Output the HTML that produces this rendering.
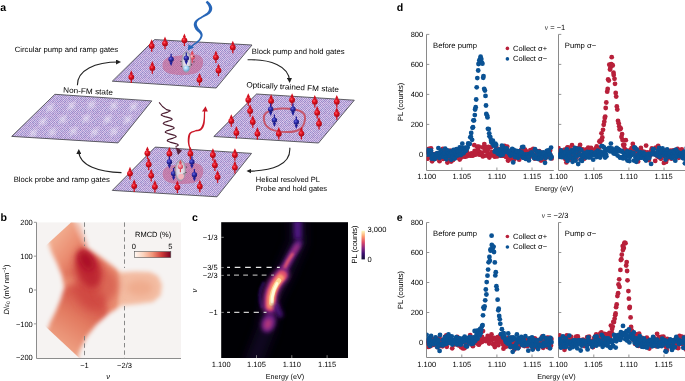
<!DOCTYPE html>
<html><head><meta charset="utf-8"><style>
html,body{margin:0;padding:0;background:#fff;width:685px;height:381px;overflow:hidden}
svg{display:block;will-change:transform}
text{font-family:"Liberation Sans", sans-serif;text-rendering:geometricPrecision}
</style></head><body>
<svg width="685" height="381" viewBox="0 0 685 381" font-family='"Liberation Sans", sans-serif'><rect width="685" height="381" fill="#fff"/><defs>
<pattern id="chk" patternUnits="userSpaceOnUse" width="12" height="12"><rect x="0" y="0" width="1" height="1" fill="#a690cd"/><rect x="1" y="0" width="1" height="1" fill="#dacdef"/><rect x="2" y="0" width="1" height="1" fill="#a892ce"/><rect x="3" y="0" width="1" height="1" fill="#c9bbe4"/><rect x="4" y="0" width="1" height="1" fill="#ae95cf"/><rect x="5" y="0" width="1" height="1" fill="#c4b9e3"/><rect x="6" y="0" width="1" height="1" fill="#a188c8"/><rect x="7" y="0" width="1" height="1" fill="#cfc7eb"/><rect x="8" y="0" width="1" height="1" fill="#b99dd4"/><rect x="9" y="0" width="1" height="1" fill="#d6c6eb"/><rect x="10" y="0" width="1" height="1" fill="#9789c9"/><rect x="11" y="0" width="1" height="1" fill="#cbc3e9"/><rect x="0" y="1" width="1" height="1" fill="#c5bbe4"/><rect x="1" y="1" width="1" height="1" fill="#9b86c7"/><rect x="2" y="1" width="1" height="1" fill="#d4c1e8"/><rect x="3" y="1" width="1" height="1" fill="#a992ce"/><rect x="4" y="1" width="1" height="1" fill="#d3c2e8"/><rect x="5" y="1" width="1" height="1" fill="#a290cd"/><rect x="6" y="1" width="1" height="1" fill="#e3cef0"/><rect x="7" y="1" width="1" height="1" fill="#b29ad2"/><rect x="8" y="1" width="1" height="1" fill="#c8bee6"/><rect x="9" y="1" width="1" height="1" fill="#9b8cca"/><rect x="10" y="1" width="1" height="1" fill="#d5c9ec"/><rect x="11" y="1" width="1" height="1" fill="#ad9ad2"/><rect x="0" y="2" width="1" height="1" fill="#b69cd4"/><rect x="1" y="2" width="1" height="1" fill="#c0b7e1"/><rect x="2" y="2" width="1" height="1" fill="#b09bd3"/><rect x="3" y="2" width="1" height="1" fill="#dbceef"/><rect x="4" y="2" width="1" height="1" fill="#9e87c7"/><rect x="5" y="2" width="1" height="1" fill="#d4c9ed"/><rect x="6" y="2" width="1" height="1" fill="#9a88c8"/><rect x="7" y="2" width="1" height="1" fill="#dfceef"/><rect x="8" y="2" width="1" height="1" fill="#9a88c8"/><rect x="9" y="2" width="1" height="1" fill="#c1b9e3"/><rect x="10" y="2" width="1" height="1" fill="#a999d2"/><rect x="11" y="2" width="1" height="1" fill="#d1c4e9"/><rect x="0" y="3" width="1" height="1" fill="#ccbbe4"/><rect x="1" y="3" width="1" height="1" fill="#a089c8"/><rect x="2" y="3" width="1" height="1" fill="#c6b9e3"/><rect x="3" y="3" width="1" height="1" fill="#9c8bc9"/><rect x="4" y="3" width="1" height="1" fill="#e0ceef"/><rect x="5" y="3" width="1" height="1" fill="#a78dcb"/><rect x="6" y="3" width="1" height="1" fill="#c8bce4"/><rect x="7" y="3" width="1" height="1" fill="#b19ad3"/><rect x="8" y="3" width="1" height="1" fill="#ceb9e3"/><rect x="9" y="3" width="1" height="1" fill="#9c8bc9"/><rect x="10" y="3" width="1" height="1" fill="#d5c9ec"/><rect x="11" y="3" width="1" height="1" fill="#9c8dcb"/><rect x="0" y="4" width="1" height="1" fill="#9e88c8"/><rect x="1" y="4" width="1" height="1" fill="#ccbce5"/><rect x="2" y="4" width="1" height="1" fill="#a38ecc"/><rect x="3" y="4" width="1" height="1" fill="#dbceef"/><rect x="4" y="4" width="1" height="1" fill="#ad93cf"/><rect x="5" y="4" width="1" height="1" fill="#c4bbe4"/><rect x="6" y="4" width="1" height="1" fill="#b59bd3"/><rect x="7" y="4" width="1" height="1" fill="#c6bce5"/><rect x="8" y="4" width="1" height="1" fill="#b297d1"/><rect x="9" y="4" width="1" height="1" fill="#d0bbe4"/><rect x="10" y="4" width="1" height="1" fill="#b19bd3"/><rect x="11" y="4" width="1" height="1" fill="#c9c1e7"/><rect x="0" y="5" width="1" height="1" fill="#ccb7e2"/><rect x="1" y="5" width="1" height="1" fill="#a38bca"/><rect x="2" y="5" width="1" height="1" fill="#cfbde5"/><rect x="3" y="5" width="1" height="1" fill="#a694cf"/><rect x="4" y="5" width="1" height="1" fill="#ccbbe4"/><rect x="5" y="5" width="1" height="1" fill="#9887c7"/><rect x="6" y="5" width="1" height="1" fill="#d7c4e9"/><rect x="7" y="5" width="1" height="1" fill="#a694cf"/><rect x="8" y="5" width="1" height="1" fill="#d6cdef"/><rect x="9" y="5" width="1" height="1" fill="#9886c7"/><rect x="10" y="5" width="1" height="1" fill="#c9c1e8"/><rect x="11" y="5" width="1" height="1" fill="#9d8ac9"/><rect x="0" y="6" width="1" height="1" fill="#a393cf"/><rect x="1" y="6" width="1" height="1" fill="#d3bfe7"/><rect x="2" y="6" width="1" height="1" fill="#b49dd4"/><rect x="3" y="6" width="1" height="1" fill="#d6c7eb"/><rect x="4" y="6" width="1" height="1" fill="#9789c8"/><rect x="5" y="6" width="1" height="1" fill="#cbb7e2"/><rect x="6" y="6" width="1" height="1" fill="#b296d0"/><rect x="7" y="6" width="1" height="1" fill="#c7b7e2"/><rect x="8" y="6" width="1" height="1" fill="#a991cd"/><rect x="9" y="6" width="1" height="1" fill="#d3bee6"/><rect x="10" y="6" width="1" height="1" fill="#9d87c7"/><rect x="11" y="6" width="1" height="1" fill="#dcc8ec"/><rect x="0" y="7" width="1" height="1" fill="#d9c8ec"/><rect x="1" y="7" width="1" height="1" fill="#b399d2"/><rect x="2" y="7" width="1" height="1" fill="#d0bfe6"/><rect x="3" y="7" width="1" height="1" fill="#b59bd3"/><rect x="4" y="7" width="1" height="1" fill="#d3c1e7"/><rect x="5" y="7" width="1" height="1" fill="#b09ad3"/><rect x="6" y="7" width="1" height="1" fill="#d2c5ea"/><rect x="7" y="7" width="1" height="1" fill="#aa93cf"/><rect x="8" y="7" width="1" height="1" fill="#c8b8e2"/><rect x="9" y="7" width="1" height="1" fill="#b89dd5"/><rect x="10" y="7" width="1" height="1" fill="#d4c8ec"/><rect x="11" y="7" width="1" height="1" fill="#ad97d1"/><rect x="0" y="8" width="1" height="1" fill="#aa90cd"/><rect x="1" y="8" width="1" height="1" fill="#cab9e3"/><rect x="2" y="8" width="1" height="1" fill="#9d86c7"/><rect x="3" y="8" width="1" height="1" fill="#ccc2e8"/><rect x="4" y="8" width="1" height="1" fill="#ab96d0"/><rect x="5" y="8" width="1" height="1" fill="#d9c5ea"/><rect x="6" y="8" width="1" height="1" fill="#9a8cca"/><rect x="7" y="8" width="1" height="1" fill="#cebee6"/><rect x="8" y="8" width="1" height="1" fill="#9b8ac9"/><rect x="9" y="8" width="1" height="1" fill="#dcccee"/><rect x="10" y="8" width="1" height="1" fill="#ab90cd"/><rect x="11" y="8" width="1" height="1" fill="#cfbee6"/><rect x="0" y="9" width="1" height="1" fill="#c8bbe4"/><rect x="1" y="9" width="1" height="1" fill="#b499d2"/><rect x="2" y="9" width="1" height="1" fill="#d8ccee"/><rect x="3" y="9" width="1" height="1" fill="#a693cf"/><rect x="4" y="9" width="1" height="1" fill="#c8bae3"/><rect x="5" y="9" width="1" height="1" fill="#b39ad2"/><rect x="6" y="9" width="1" height="1" fill="#dcc8ec"/><rect x="7" y="9" width="1" height="1" fill="#9d8cca"/><rect x="8" y="9" width="1" height="1" fill="#ccc1e8"/><rect x="9" y="9" width="1" height="1" fill="#9e8bc9"/><rect x="10" y="9" width="1" height="1" fill="#d3c6ea"/><rect x="11" y="9" width="1" height="1" fill="#a78dcb"/><rect x="0" y="10" width="1" height="1" fill="#b19dd4"/><rect x="1" y="10" width="1" height="1" fill="#c0b8e2"/><rect x="2" y="10" width="1" height="1" fill="#a99ad3"/><rect x="3" y="10" width="1" height="1" fill="#d6c8ec"/><rect x="4" y="10" width="1" height="1" fill="#a68dcb"/><rect x="5" y="10" width="1" height="1" fill="#c0b7e2"/><rect x="6" y="10" width="1" height="1" fill="#9f90cd"/><rect x="7" y="10" width="1" height="1" fill="#d5caed"/><rect x="8" y="10" width="1" height="1" fill="#9889c8"/><rect x="9" y="10" width="1" height="1" fill="#d3c6ea"/><rect x="10" y="10" width="1" height="1" fill="#ac95cf"/><rect x="11" y="10" width="1" height="1" fill="#decaed"/><rect x="0" y="11" width="1" height="1" fill="#d1c7eb"/><rect x="1" y="11" width="1" height="1" fill="#a191cd"/><rect x="2" y="11" width="1" height="1" fill="#c4b7e1"/><rect x="3" y="11" width="1" height="1" fill="#a797d1"/><rect x="4" y="11" width="1" height="1" fill="#c9bde5"/><rect x="5" y="11" width="1" height="1" fill="#ac96d0"/><rect x="6" y="11" width="1" height="1" fill="#d7c5ea"/><rect x="7" y="11" width="1" height="1" fill="#a88fcc"/><rect x="8" y="11" width="1" height="1" fill="#d4ccee"/><rect x="9" y="11" width="1" height="1" fill="#b49cd4"/><rect x="10" y="11" width="1" height="1" fill="#c7bae3"/><rect x="11" y="11" width="1" height="1" fill="#af95cf"/></pattern>
<radialGradient id="rs" cx="0.38" cy="0.35" r="0.7"><stop offset="0" stop-color="#ff5a66"/><stop offset="0.4" stop-color="#e0101e"/><stop offset="1" stop-color="#a00814"/></radialGradient>
<radialGradient id="bs" cx="0.38" cy="0.35" r="0.7"><stop offset="0" stop-color="#6a6ae0"/><stop offset="0.45" stop-color="#2a2aa8"/><stop offset="1" stop-color="#14146a"/></radialGradient>
<radialGradient id="ps" cx="0.38" cy="0.35" r="0.7"><stop offset="0" stop-color="#ffc0c8"/><stop offset="0.5" stop-color="#f07080"/><stop offset="1" stop-color="#c83048"/></radialGradient>
<radialGradient id="lbs" cx="0.4" cy="0.35" r="0.7"><stop offset="0" stop-color="#e0f4ff"/><stop offset="0.6" stop-color="#90c8ec"/><stop offset="1" stop-color="#5a90c0"/></radialGradient>
<radialGradient id="gel" cx="0.5" cy="0.5" r="0.5"><stop offset="0" stop-color="#f4f4f8" stop-opacity="0.95"/><stop offset="0.7" stop-color="#d8d8e0" stop-opacity="0.9"/><stop offset="1" stop-color="#9a9aa8" stop-opacity="0.9"/></radialGradient>
<linearGradient id="rmcd" x1="0" x2="1" y1="0" y2="0"><stop offset="0" stop-color="#fff8f4"/><stop offset="0.25" stop-color="#fbd2bc"/><stop offset="0.5" stop-color="#f19478"/><stop offset="0.75" stop-color="#cf3a38"/><stop offset="1" stop-color="#7a0020"/></linearGradient>
<linearGradient id="magma" x1="0" x2="0" y1="1" y2="0"><stop offset="0" stop-color="#140e36"/><stop offset="0.2" stop-color="#3b0f70"/><stop offset="0.4" stop-color="#8c2981"/><stop offset="0.6" stop-color="#de4968"/><stop offset="0.8" stop-color="#fe9f6d"/><stop offset="1" stop-color="#fcfdbf"/></linearGradient>
<filter id="b06" filterUnits="userSpaceOnUse" x="-10" y="-10" width="705" height="401"><feGaussianBlur stdDeviation="0.6"/></filter>
<filter id="b1" filterUnits="userSpaceOnUse" x="-10" y="-10" width="705" height="401"><feGaussianBlur stdDeviation="1"/></filter>
<filter id="b15" filterUnits="userSpaceOnUse" x="-10" y="-10" width="705" height="401"><feGaussianBlur stdDeviation="1.6"/></filter>
<filter id="b2" filterUnits="userSpaceOnUse" x="-10" y="-10" width="705" height="401"><feGaussianBlur stdDeviation="2"/></filter>
<filter id="b3" filterUnits="userSpaceOnUse" x="-10" y="-10" width="705" height="401"><feGaussianBlur stdDeviation="3"/></filter>
<filter id="b5" filterUnits="userSpaceOnUse" x="-10" y="-10" width="705" height="401"><feGaussianBlur stdDeviation="5"/></filter>
<filter id="b8" filterUnits="userSpaceOnUse" x="-10" y="-10" width="705" height="401"><feGaussianBlur stdDeviation="8"/></filter>
<marker id="ah" viewBox="0 0 10 10" refX="6" refY="5" markerWidth="5" markerHeight="5" orient="auto-start-reverse" markerUnits="userSpaceOnUse"><path d="M0,0L10,5L0,10z" fill="#222"/></marker>
</defs><text transform="translate(14.8,52.3)" font-size="7.7" fill="#000">Circular pump and ramp gates</text><text transform="translate(251.8,53.9)" font-size="7.7" fill="#000">Block pump and hold gates</text><text transform="translate(63.0,92.6) rotate(2.6) scale(1.07,1)" font-size="7.7" fill="#000">Non-FM state</text><text transform="translate(246.2,87.3) rotate(2.9) scale(1.065,1)" font-size="7.7" fill="#000">Optically trained FM state</text><text transform="translate(255.8,182.0)" font-size="7.5" fill="#000">Helical resolved PL</text><text transform="translate(255.8,191.2)" font-size="7.5" fill="#000">Probe and hold gates</text><text transform="translate(13.7,182.0)" font-size="7.7" fill="#000">Block probe and ramp gates</text><path d="M77.4,85.3C77,70 95,62 119,62" stroke="#222" stroke-width="1.1" fill="none" marker-end="url(#ah)"/><path d="M247.6,59.8C270,59 289,66 289.6,81" stroke="#222" stroke-width="1.1" fill="none" marker-end="url(#ah)"/><path d="M289.8,147.7C291,165 272,171 248.5,171.1" stroke="#222" stroke-width="1.1" fill="none" marker-end="url(#ah)"/><path d="M121.5,172.6C100,172 79,166 78.8,151" stroke="#222" stroke-width="1.1" fill="none" marker-end="url(#ah)"/><polygon points="54.9,94.3 151.8,100.9 118,142.9 11.7,136.4" fill="url(#chk)"/><g filter="url(#b1)"><ellipse cx="50.2" cy="107.9" rx="2.2" ry="6.5" transform="rotate(40 50.2 107.9)" fill="#fff" opacity="0.3"/><ellipse cx="50.2" cy="107.9" rx="2.0" ry="5" transform="rotate(-50 50.2 107.9)" fill="#fff" opacity="0.22"/><ellipse cx="71.4" cy="105.8" rx="2.2" ry="6.5" transform="rotate(40 71.4 105.8)" fill="#fff" opacity="0.3"/><ellipse cx="71.4" cy="105.8" rx="2.0" ry="5" transform="rotate(-50 71.4 105.8)" fill="#fff" opacity="0.22"/><ellipse cx="91.5" cy="104.7" rx="2.2" ry="6.5" transform="rotate(40 91.5 104.7)" fill="#fff" opacity="0.3"/><ellipse cx="91.5" cy="104.7" rx="2.0" ry="5" transform="rotate(-50 91.5 104.7)" fill="#fff" opacity="0.22"/><ellipse cx="113.7" cy="105.8" rx="2.2" ry="6.5" transform="rotate(40 113.7 105.8)" fill="#fff" opacity="0.3"/><ellipse cx="113.7" cy="105.8" rx="2.0" ry="5" transform="rotate(-50 113.7 105.8)" fill="#fff" opacity="0.22"/><ellipse cx="133.5" cy="106.8" rx="2.2" ry="6.5" transform="rotate(40 133.5 106.8)" fill="#fff" opacity="0.3"/><ellipse cx="133.5" cy="106.8" rx="2.0" ry="5" transform="rotate(-50 133.5 106.8)" fill="#fff" opacity="0.22"/><ellipse cx="42.8" cy="121.6" rx="2.2" ry="6.5" transform="rotate(40 42.8 121.6)" fill="#fff" opacity="0.3"/><ellipse cx="42.8" cy="121.6" rx="2.0" ry="5" transform="rotate(-50 42.8 121.6)" fill="#fff" opacity="0.22"/><ellipse cx="62.9" cy="119.5" rx="2.2" ry="6.5" transform="rotate(40 62.9 119.5)" fill="#fff" opacity="0.3"/><ellipse cx="62.9" cy="119.5" rx="2.0" ry="5" transform="rotate(-50 62.9 119.5)" fill="#fff" opacity="0.22"/><ellipse cx="86.2" cy="118.5" rx="2.2" ry="6.5" transform="rotate(40 86.2 118.5)" fill="#fff" opacity="0.3"/><ellipse cx="86.2" cy="118.5" rx="2.0" ry="5" transform="rotate(-50 86.2 118.5)" fill="#fff" opacity="0.22"/><ellipse cx="107.5" cy="119.5" rx="2.2" ry="6.5" transform="rotate(40 107.5 119.5)" fill="#fff" opacity="0.3"/><ellipse cx="107.5" cy="119.5" rx="2.0" ry="5" transform="rotate(-50 107.5 119.5)" fill="#fff" opacity="0.22"/><ellipse cx="127.5" cy="119.5" rx="2.2" ry="6.5" transform="rotate(40 127.5 119.5)" fill="#fff" opacity="0.3"/><ellipse cx="127.5" cy="119.5" rx="2.0" ry="5" transform="rotate(-50 127.5 119.5)" fill="#fff" opacity="0.22"/><ellipse cx="33.3" cy="133.3" rx="2.2" ry="6.5" transform="rotate(40 33.3 133.3)" fill="#fff" opacity="0.3"/><ellipse cx="33.3" cy="133.3" rx="2.0" ry="5" transform="rotate(-50 33.3 133.3)" fill="#fff" opacity="0.22"/><ellipse cx="52.3" cy="132.2" rx="2.2" ry="6.5" transform="rotate(40 52.3 132.2)" fill="#fff" opacity="0.3"/><ellipse cx="52.3" cy="132.2" rx="2.0" ry="5" transform="rotate(-50 52.3 132.2)" fill="#fff" opacity="0.22"/><ellipse cx="73.5" cy="131.2" rx="2.2" ry="6.5" transform="rotate(40 73.5 131.2)" fill="#fff" opacity="0.3"/><ellipse cx="73.5" cy="131.2" rx="2.0" ry="5" transform="rotate(-50 73.5 131.2)" fill="#fff" opacity="0.22"/><ellipse cx="94.7" cy="132.2" rx="2.2" ry="6.5" transform="rotate(40 94.7 132.2)" fill="#fff" opacity="0.3"/><ellipse cx="94.7" cy="132.2" rx="2.0" ry="5" transform="rotate(-50 94.7 132.2)" fill="#fff" opacity="0.22"/><ellipse cx="113.8" cy="131.5" rx="2.2" ry="6.5" transform="rotate(40 113.8 131.5)" fill="#fff" opacity="0.3"/><ellipse cx="113.8" cy="131.5" rx="2.0" ry="5" transform="rotate(-50 113.8 131.5)" fill="#fff" opacity="0.22"/></g><polygon points="54.9,94.3 151.8,100.9 118,142.9 11.7,136.4" fill="none" stroke="#46464c" stroke-width="0.85" stroke-linejoin="round"/><polygon points="154.5,39.6 252,45 216.2,88 112.3,81.2" fill="url(#chk)"/><path d="M162.5,66C162,59 168,56 176,56C182,55.5 186,53.8 192,54C199,54.3 203.5,57 203.2,62C203,68 200,72 193,74C186,75.6 178,75.5 171,74C165,72.5 162.7,70 162.5,66z" fill="#c8628e" opacity="0.6"/><polygon points="154.5,39.6 252,45 216.2,88 112.3,81.2" fill="none" stroke="#46464c" stroke-width="0.85" stroke-linejoin="round"/><path d="M151.7,51.8V42.0" stroke="#d0101e" stroke-width="1.3"/><path d="M151.7,39.2l1.7,3.9h-3.4z" fill="#d0101e"/><circle cx="151.7" cy="46.0" r="2.9" fill="url(#rs)"/><path d="M165.0,49.2V39.4" stroke="#d0101e" stroke-width="1.3"/><path d="M165.0,36.6l1.7,3.9h-3.4z" fill="#d0101e"/><circle cx="165.0" cy="43.4" r="2.9" fill="url(#rs)"/><path d="M184.4,46.1V36.3" stroke="#d0101e" stroke-width="1.3"/><path d="M184.4,33.5l1.7,3.9h-3.4z" fill="#d0101e"/><circle cx="184.4" cy="40.3" r="2.9" fill="url(#rs)"/><path d="M232.8,53.3V43.5" stroke="#d0101e" stroke-width="1.3"/><path d="M232.8,40.7l1.7,3.9h-3.4z" fill="#d0101e"/><circle cx="232.8" cy="47.5" r="2.9" fill="url(#rs)"/><path d="M152.3,73.7V63.9" stroke="#d0101e" stroke-width="1.3"/><path d="M152.3,61.1l1.7,3.9h-3.4z" fill="#d0101e"/><circle cx="152.3" cy="67.9" r="2.9" fill="url(#rs)"/><path d="M131.3,82.9V73.1" stroke="#d0101e" stroke-width="1.3"/><path d="M131.3,70.3l1.7,3.9h-3.4z" fill="#d0101e"/><circle cx="131.3" cy="77.1" r="2.9" fill="url(#rs)"/><path d="M215.9,63.1V53.3" stroke="#d0101e" stroke-width="1.3"/><path d="M215.9,50.5l1.7,3.9h-3.4z" fill="#d0101e"/><circle cx="215.9" cy="57.3" r="2.9" fill="url(#rs)"/><path d="M218.5,76.2V66.4" stroke="#d0101e" stroke-width="1.3"/><path d="M218.5,63.6l1.7,3.9h-3.4z" fill="#d0101e"/><circle cx="218.5" cy="70.4" r="2.9" fill="url(#rs)"/><path d="M199.5,85.6V75.8" stroke="#d0101e" stroke-width="1.3"/><path d="M199.5,73.0l1.7,3.9h-3.4z" fill="#d0101e"/><circle cx="199.5" cy="79.8" r="2.9" fill="url(#rs)"/><path d="M171.1,53.7V63.3" stroke="#20209a" stroke-width="1.3"/><path d="M171.1,66.1l1.7,-3.9h-3.4z" fill="#20209a"/><circle cx="171.1" cy="59.3" r="2.7" fill="url(#bs)"/><path d="M192.2,62.8V53.0" stroke="#e04858" stroke-width="1.3"/><path d="M192.2,50.2l1.7,3.9h-3.4z" fill="#e04858"/><circle cx="192.2" cy="57.0" r="2.6" fill="url(#ps)"/><ellipse cx="186.3" cy="62" rx="4.6" ry="10.6" fill="url(#gel)" stroke="#9a9aa4" stroke-width="0.6"/><g fill="#333"><circle cx="181" cy="61.5" r="0.6"/><circle cx="181.3" cy="66.5" r="0.6"/><circle cx="193.8" cy="56.5" r="0.6"/><circle cx="194" cy="61.8" r="0.6"/><circle cx="191.5" cy="64.8" r="0.6"/><circle cx="189" cy="66.6" r="0.6"/></g><circle cx="186.3" cy="68.6" r="3" fill="url(#lbs)"/><path d="M186.3,52.6V62.2" stroke="#20209a" stroke-width="1.3"/><path d="M186.3,65.0l1.7,-3.9h-3.4z" fill="#20209a"/><circle cx="186.3" cy="58.2" r="2.7" fill="url(#bs)"/><polygon points="205.69,2.25 206.02,2.67 206.47,3.23 206.98,3.88 207.48,4.56 207.91,5.20 208.21,5.76 208.44,6.31 208.67,6.89 208.85,7.44 208.96,7.94 209.02,8.40 209.01,8.82 208.95,9.29 208.83,9.81 208.64,10.36 208.38,10.92 208.03,11.50 207.60,12.06 207.03,12.63 206.29,13.23 205.42,13.85 204.46,14.48 203.48,15.11 202.53,15.73 201.60,16.32 200.61,16.88 199.59,17.45 198.59,18.02 197.65,18.63 196.82,19.27 196.10,19.93 195.45,20.61 194.87,21.33 194.39,22.11 194.02,22.96 193.80,23.89 193.77,24.88 193.91,25.85 194.18,26.79 194.54,27.69 194.96,28.54 195.46,29.38 196.12,30.22 196.89,30.97 197.67,31.64 198.40,32.23 198.99,32.76 199.43,33.24 199.78,33.72 200.08,34.17 200.30,34.57 200.45,34.95 200.53,35.34 200.52,35.81 200.40,36.39 200.17,37.06 199.83,37.77 199.40,38.51 198.91,39.24 198.37,39.93 197.73,40.60 196.94,41.29 196.06,41.99 195.15,42.67 194.29,43.31 193.53,43.91 192.88,44.46 192.28,44.98 191.73,45.45 191.25,45.86 190.85,46.21 190.55,46.46 191.45,47.54 191.76,47.28 192.16,46.95 192.65,46.55 193.21,46.10 193.82,45.60 194.47,45.09 195.20,44.54 196.07,43.92 197.01,43.26 197.95,42.56 198.85,41.82 199.63,41.07 200.29,40.30 200.89,39.49 201.42,38.66 201.87,37.83 202.23,37.00 202.48,36.19 202.61,35.39 202.60,34.61 202.47,33.86 202.24,33.16 201.95,32.48 201.57,31.76 201.03,30.98 200.38,30.21 199.69,29.49 199.05,28.81 198.52,28.19 198.14,27.62 197.80,27.01 197.46,26.35 197.19,25.71 196.98,25.11 196.85,24.58 196.80,24.11 196.81,23.64 196.89,23.11 197.05,22.55 197.32,21.95 197.70,21.33 198.18,20.73 198.80,20.15 199.59,19.57 200.50,18.99 201.48,18.41 202.49,17.84 203.47,17.27 204.43,16.73 205.45,16.22 206.51,15.71 207.54,15.18 208.53,14.59 209.40,13.94 210.13,13.23 210.76,12.49 211.28,11.71 211.70,10.89 212.00,10.05 212.19,9.18 212.23,8.26 212.12,7.35 211.89,6.50 211.58,5.71 211.22,4.97 210.79,4.24 210.24,3.50 209.58,2.78 208.88,2.12 208.22,1.55 207.68,1.08 207.31,0.75" fill="#2766b8"/><path d="M187.6,50.6L188.6,44.2L194,47.6z" fill="#2766b8"/><polygon points="256.5,94 354.3,100.2 318.5,143 213.8,136.5" fill="url(#chk)"/><path d="M264,120C262,112 272,108 284,108.5C297,109 306,111 305,119C304,128 300,132 287,132C274,132 265,129 264,120z" fill="none" stroke="#c84858" stroke-width="2" opacity="0.85"/><polygon points="256.5,94 354.3,100.2 318.5,143 213.8,136.5" fill="none" stroke="#46464c" stroke-width="0.85" stroke-linejoin="round"/><path d="M248.3,105.8V96.0" stroke="#d0101e" stroke-width="1.3"/><path d="M248.3,93.2l1.7,3.9h-3.4z" fill="#d0101e"/><circle cx="248.3" cy="100.0" r="2.9" fill="url(#rs)"/><path d="M250.1,116.8V107.0" stroke="#d0101e" stroke-width="1.3"/><path d="M250.1,104.2l1.7,3.9h-3.4z" fill="#d0101e"/><circle cx="250.1" cy="111.0" r="2.9" fill="url(#rs)"/><path d="M252.8,127.8V118.0" stroke="#d0101e" stroke-width="1.3"/><path d="M252.8,115.2l1.7,3.9h-3.4z" fill="#d0101e"/><circle cx="252.8" cy="122.0" r="2.9" fill="url(#rs)"/><path d="M257.4,139.6V129.8" stroke="#d0101e" stroke-width="1.3"/><path d="M257.4,127.0l1.7,3.9h-3.4z" fill="#d0101e"/><circle cx="257.4" cy="133.8" r="2.9" fill="url(#rs)"/><path d="M231.3,126.8V117.0" stroke="#d0101e" stroke-width="1.3"/><path d="M231.3,114.2l1.7,3.9h-3.4z" fill="#d0101e"/><circle cx="231.3" cy="121.0" r="2.9" fill="url(#rs)"/><path d="M236.4,138.7V128.9" stroke="#d0101e" stroke-width="1.3"/><path d="M236.4,126.1l1.7,3.9h-3.4z" fill="#d0101e"/><circle cx="236.4" cy="132.9" r="2.9" fill="url(#rs)"/><path d="M271.1,106.8V97.0" stroke="#d0101e" stroke-width="1.3"/><path d="M271.1,94.2l1.7,3.9h-3.4z" fill="#d0101e"/><circle cx="271.1" cy="101.0" r="2.9" fill="url(#rs)"/><path d="M292.1,105.8V96.0" stroke="#d0101e" stroke-width="1.3"/><path d="M292.1,93.2l1.7,3.9h-3.4z" fill="#d0101e"/><circle cx="292.1" cy="100.0" r="2.9" fill="url(#rs)"/><path d="M314.8,107.5V97.7" stroke="#d0101e" stroke-width="1.3"/><path d="M314.8,94.9l1.7,3.9h-3.4z" fill="#d0101e"/><circle cx="314.8" cy="101.7" r="2.9" fill="url(#rs)"/><path d="M317.2,118.5V108.7" stroke="#d0101e" stroke-width="1.3"/><path d="M317.2,105.9l1.7,3.9h-3.4z" fill="#d0101e"/><circle cx="317.2" cy="112.7" r="2.9" fill="url(#rs)"/><path d="M319.0,129.5V119.7" stroke="#d0101e" stroke-width="1.3"/><path d="M319.0,116.9l1.7,3.9h-3.4z" fill="#d0101e"/><circle cx="319.0" cy="123.7" r="2.9" fill="url(#rs)"/><path d="M278.8,139.6V129.8" stroke="#d0101e" stroke-width="1.3"/><path d="M278.8,127.0l1.7,3.9h-3.4z" fill="#d0101e"/><circle cx="278.8" cy="133.8" r="2.9" fill="url(#rs)"/><path d="M301.4,139.4V129.6" stroke="#d0101e" stroke-width="1.3"/><path d="M301.4,126.8l1.7,3.9h-3.4z" fill="#d0101e"/><circle cx="301.4" cy="133.6" r="2.9" fill="url(#rs)"/><path d="M336.8,107.5V97.7" stroke="#d0101e" stroke-width="1.3"/><path d="M336.8,94.9l1.7,3.9h-3.4z" fill="#d0101e"/><circle cx="336.8" cy="101.7" r="2.9" fill="url(#rs)"/><path d="M336.8,119.8V110.0" stroke="#d0101e" stroke-width="1.3"/><path d="M336.8,107.2l1.7,3.9h-3.4z" fill="#d0101e"/><circle cx="336.8" cy="114.0" r="2.9" fill="url(#rs)"/><path d="M270.7,103.6V113.2" stroke="#20209a" stroke-width="1.3"/><path d="M270.7,116.0l1.7,-3.9h-3.4z" fill="#20209a"/><circle cx="270.7" cy="109.2" r="2.7" fill="url(#bs)"/><path d="M274.4,114.5V124.1" stroke="#20209a" stroke-width="1.3"/><path d="M274.4,126.9l1.7,-3.9h-3.4z" fill="#20209a"/><circle cx="274.4" cy="120.1" r="2.7" fill="url(#bs)"/><path d="M293.0,103.6V113.2" stroke="#20209a" stroke-width="1.3"/><path d="M293.0,116.0l1.7,-3.9h-3.4z" fill="#20209a"/><circle cx="293.0" cy="109.2" r="2.7" fill="url(#bs)"/><path d="M296.3,116.4V126.0" stroke="#20209a" stroke-width="1.3"/><path d="M296.3,128.8l1.7,-3.9h-3.4z" fill="#20209a"/><circle cx="296.3" cy="122.0" r="2.7" fill="url(#bs)"/><polygon points="155.2,147.1 251.5,153.4 217,196.8 112.3,190.4" fill="url(#chk)"/><path d="M162.7,174C162.5,168 168,165 175,165C180,164.5 184,162.8 192,162.8C199,163 203.6,166 203.4,171C203.2,177 200,181.5 192,183.3C184,184.5 175,184.3 169,182.5C164.5,181 162.8,178 162.7,174z" fill="#c8628e" opacity="0.6"/><polygon points="155.2,147.1 251.5,153.4 217,196.8 112.3,190.4" fill="none" stroke="#46464c" stroke-width="0.85" stroke-linejoin="round"/><path d="M147.4,159.0V149.2" stroke="#d0101e" stroke-width="1.3"/><path d="M147.4,146.4l1.7,3.9h-3.4z" fill="#d0101e"/><circle cx="147.4" cy="153.2" r="2.9" fill="url(#rs)"/><path d="M148.7,170.2V160.4" stroke="#d0101e" stroke-width="1.3"/><path d="M148.7,157.6l1.7,3.9h-3.4z" fill="#d0101e"/><circle cx="148.7" cy="164.4" r="2.9" fill="url(#rs)"/><path d="M151.2,181.4V171.6" stroke="#d0101e" stroke-width="1.3"/><path d="M151.2,168.8l1.7,3.9h-3.4z" fill="#d0101e"/><circle cx="151.2" cy="175.6" r="2.9" fill="url(#rs)"/><path d="M154.9,192.6V182.8" stroke="#d0101e" stroke-width="1.3"/><path d="M154.9,180.0l1.7,3.9h-3.4z" fill="#d0101e"/><circle cx="154.9" cy="186.8" r="2.9" fill="url(#rs)"/><path d="M130.0,179.4V169.6" stroke="#d0101e" stroke-width="1.3"/><path d="M130.0,166.8l1.7,3.9h-3.4z" fill="#d0101e"/><circle cx="130.0" cy="173.6" r="2.9" fill="url(#rs)"/><path d="M134.2,191.9V182.1" stroke="#d0101e" stroke-width="1.3"/><path d="M134.2,179.3l1.7,3.9h-3.4z" fill="#d0101e"/><circle cx="134.2" cy="186.1" r="2.9" fill="url(#rs)"/><path d="M169.4,159.5V149.7" stroke="#d0101e" stroke-width="1.3"/><path d="M169.4,146.9l1.7,3.9h-3.4z" fill="#d0101e"/><circle cx="169.4" cy="153.7" r="2.9" fill="url(#rs)"/><path d="M177.4,193.1V183.3" stroke="#d0101e" stroke-width="1.3"/><path d="M177.4,180.5l1.7,3.9h-3.4z" fill="#d0101e"/><circle cx="177.4" cy="187.3" r="2.9" fill="url(#rs)"/><path d="M190.4,159.5V149.7" stroke="#d0101e" stroke-width="1.3"/><path d="M190.4,146.9l1.7,3.9h-3.4z" fill="#d0101e"/><circle cx="190.4" cy="153.7" r="2.9" fill="url(#rs)"/><path d="M199.8,192.3V182.5" stroke="#d0101e" stroke-width="1.3"/><path d="M199.8,179.7l1.7,3.9h-3.4z" fill="#d0101e"/><circle cx="199.8" cy="186.5" r="2.9" fill="url(#rs)"/><path d="M212.9,160.8V151.0" stroke="#d0101e" stroke-width="1.3"/><path d="M212.9,148.2l1.7,3.9h-3.4z" fill="#d0101e"/><circle cx="212.9" cy="155.0" r="2.9" fill="url(#rs)"/><path d="M214.9,171.0V161.2" stroke="#d0101e" stroke-width="1.3"/><path d="M214.9,158.4l1.7,3.9h-3.4z" fill="#d0101e"/><circle cx="214.9" cy="165.2" r="2.9" fill="url(#rs)"/><path d="M217.6,182.8V173.0" stroke="#d0101e" stroke-width="1.3"/><path d="M217.6,170.2l1.7,3.9h-3.4z" fill="#d0101e"/><circle cx="217.6" cy="177.0" r="2.9" fill="url(#rs)"/><path d="M234.9,160.8V151.0" stroke="#d0101e" stroke-width="1.3"/><path d="M234.9,148.2l1.7,3.9h-3.4z" fill="#d0101e"/><circle cx="234.9" cy="155.0" r="2.9" fill="url(#rs)"/><path d="M234.9,173.4V163.6" stroke="#d0101e" stroke-width="1.3"/><path d="M234.9,160.8l1.7,3.9h-3.4z" fill="#d0101e"/><circle cx="234.9" cy="167.6" r="2.9" fill="url(#rs)"/><path d="M169.4,156.3V165.9" stroke="#20209a" stroke-width="1.3"/><path d="M169.4,168.7l1.7,-3.9h-3.4z" fill="#20209a"/><circle cx="169.4" cy="161.9" r="2.7" fill="url(#bs)"/><path d="M173.6,168.0V177.6" stroke="#20209a" stroke-width="1.3"/><path d="M173.6,180.4l1.7,-3.9h-3.4z" fill="#20209a"/><circle cx="173.6" cy="173.6" r="2.7" fill="url(#bs)"/><path d="M191.9,156.4V166.0" stroke="#20209a" stroke-width="1.3"/><path d="M191.9,168.8l1.7,-3.9h-3.4z" fill="#20209a"/><circle cx="191.9" cy="162.0" r="2.7" fill="url(#bs)"/><path d="M194.4,169.1V178.7" stroke="#20209a" stroke-width="1.3"/><path d="M194.4,181.5l1.7,-3.9h-3.4z" fill="#20209a"/><circle cx="194.4" cy="174.7" r="2.7" fill="url(#bs)"/><ellipse cx="180.4" cy="170.4" rx="5.2" ry="10.4" fill="url(#gel)" stroke="#9a9aa4" stroke-width="0.6"/><g fill="#333"><circle cx="174.5" cy="167.5" r="0.6"/><circle cx="174.2" cy="173" r="0.6"/><circle cx="186.5" cy="167" r="0.6"/><circle cx="186" cy="172.5" r="0.6"/><circle cx="182" cy="174.6" r="0.6"/><circle cx="184" cy="173.8" r="0.6"/></g><circle cx="181" cy="176.6" r="2.8" fill="#f6b4bc"/><path d="M180.4,172.3V162.5" stroke="#e04858" stroke-width="1.3"/><path d="M180.4,159.7l1.7,3.9h-3.4z" fill="#e04858"/><circle cx="180.4" cy="166.5" r="2.6" fill="url(#ps)"/><path d="M159.10,102.40 L162.50,106.50 L166.50,109.60 L170.20,110.60 L169.99,111.10 L169.16,111.60 L167.84,112.10 L166.21,112.60 L164.52,113.10 L162.99,113.60 L161.85,114.10 L161.25,114.60 L161.30,115.10 L162.01,115.60 L163.29,116.10 L164.99,116.60 L166.90,117.10 L168.79,117.60 L170.42,118.10 L171.60,118.60 L172.17,119.10 L172.09,119.60 L171.38,120.10 L170.14,120.60 L168.56,121.10 L166.86,121.60 L165.28,122.10 L164.04,122.60 L163.33,123.10 L163.25,123.60 L163.83,124.10 L165.00,124.60 L166.63,125.10 L168.52,125.60 L170.43,126.10 L172.13,126.60 L173.41,127.10 L174.12,127.60 L174.17,128.10 L173.57,128.60 L172.43,129.10 L170.90,129.60 L169.21,130.10 L167.58,130.60 L166.26,131.10 L165.43,131.60 L165.22,132.10 L165.67,132.60 L166.73,133.10 L168.28,133.60 L170.14,134.10 L172.07,134.60 L173.83,135.10 L175.21,135.60 L176.04,136.10 L176.22,136.60 L175.75,137.10 L174.70,137.60 L173.24,138.10 L171.56,138.60 L169.90,139.10 L168.50,139.60 L167.56,140.10 L167.22,140.60 L167.53,141.10 L168.48,141.60 L169.95,142.10 L171.76,142.60 L173.70,143.10 L175.51,143.60 L176.98,144.10 L177.93,144.60 L178.24,145.10 L177.90,145.60 L176.96,146.10 L175.56,146.60" stroke="#4a1c30" stroke-width="1.1" fill="none" stroke-linejoin="round"/><path d="M175.5,147L182,150.5L178,155z" fill="#5a2038"/><polygon points="191.52,150.82 191.27,150.04 190.91,148.98 190.50,147.73 190.09,146.39 189.75,145.08 189.54,143.88 189.45,142.74 189.44,141.54 189.48,140.33 189.58,139.17 189.70,138.09 189.84,137.14 189.97,136.32 190.11,135.60 190.27,135.00 190.46,134.48 190.71,134.01 191.05,133.58 191.50,133.19 192.07,132.83 192.76,132.50 193.53,132.19 194.36,131.90 195.19,131.62 196.04,131.41 196.98,131.27 198.00,131.16 199.04,130.99 200.06,130.72 201.01,130.24 201.80,129.59 202.46,128.84 203.01,128.01 203.47,127.14 203.86,126.23 204.20,125.31 204.47,124.32 204.66,123.28 204.79,122.21 204.87,121.14 204.93,120.09 205.00,119.06 205.05,118.00 205.08,116.91 205.08,115.82 205.08,114.79 205.08,113.84 205.10,113.03 205.13,112.34 205.16,111.72 205.20,111.19 205.24,110.73 205.27,110.35 205.30,110.06 204.30,109.94 204.26,110.23 204.20,110.60 204.12,111.06 204.04,111.61 203.97,112.25 203.90,112.97 203.86,113.81 203.83,114.77 203.80,115.80 203.77,116.87 203.70,117.93 203.60,118.94 203.47,119.94 203.31,120.97 203.14,121.97 202.93,122.94 202.69,123.85 202.40,124.69 202.08,125.51 201.73,126.31 201.35,127.05 200.94,127.72 200.48,128.29 199.99,128.76 199.39,129.12 198.62,129.41 197.72,129.66 196.73,129.87 195.74,130.10 194.81,130.38 193.95,130.66 193.10,130.92 192.25,131.19 191.43,131.51 190.64,131.90 189.95,132.42 189.38,133.02 188.93,133.67 188.58,134.38 188.32,135.14 188.12,135.96 187.96,136.86 187.84,137.89 187.76,139.05 187.74,140.29 187.78,141.57 187.88,142.86 188.06,144.12 188.37,145.42 188.80,146.79 189.29,148.15 189.78,149.39 190.20,150.43 190.48,151.18" fill="#cc1828"/><path d="M205.6,106.2L202,111.4L207.8,111.6z" fill="#c81626"/><rect x="36.8" y="222.4" width="144.2" height="135.6" fill="#f6f3f2"/><mask id="ym" maskUnits="userSpaceOnUse" x="20" y="200" width="180" height="180"><polygon points="30,229 60,212 73,212 74.5,222 79,233 84,244.5 88,248 100,256.5 112,265.5 121,272.5 135,271.5 150,272 158,276 162,285 160.5,295.5 153,302 138,304 122,305.5 109,313.5 96,325 86.5,337 80,350 76,365 40,365 45,330 47.6,330 50,322.8 55.9,311 60.7,299.2 64.2,287.3 61.9,275.5 57.1,263.7 51.2,251.8 47.6,240" fill="#fff" filter="url(#b2)"/><polygon points="72,222 80,222 88,246 84,247" fill="#fff" opacity="0.5" filter="url(#b2)"/></mask><clipPath id="bclip"><polygon points="71,222.4 181,222.4 181,358 79.3,358 37.4,319 37.4,253.3"/></clipPath><linearGradient id="ua" gradientUnits="userSpaceOnUse" x1="50" y1="235" x2="85" y2="262"><stop offset="0" stop-color="#f4b496"/><stop offset="0.6" stop-color="#ea8c70"/><stop offset="1" stop-color="#da6652"/></linearGradient><linearGradient id="la" gradientUnits="userSpaceOnUse" x1="95" y1="292" x2="60" y2="345"><stop offset="0" stop-color="#d04640"/><stop offset="0.5" stop-color="#e27a60"/><stop offset="1" stop-color="#eea082"/></linearGradient><g clip-path="url(#bclip)"><g mask="url(#ym)"><rect x="20" y="200" width="180" height="180" fill="#e98c70"/><polygon points="20,200 90,200 90,250 78,275 55,280 20,270" fill="url(#ua)" filter="url(#b3)"/><polygon points="100,285 110,320 85,370 30,370 40,300 70,285" fill="url(#la)" filter="url(#b3)"/><polygon points="118,266 170,266 170,312 118,312" fill="#f3bca2" filter="url(#b2)"/><ellipse cx="140" cy="288" rx="13" ry="8" fill="#efac8e" filter="url(#b3)"/><ellipse cx="92" cy="284" rx="17" ry="26" fill="#d04a42" filter="url(#b5)" transform="rotate(-8 92 284)"/><ellipse cx="108" cy="285" rx="10" ry="13" fill="#da6654" filter="url(#b5)"/><ellipse cx="88" cy="268" rx="11" ry="20" fill="#bd2832" filter="url(#b3)" transform="rotate(-20 88 268)"/><ellipse cx="86.5" cy="261" rx="6" ry="10" fill="#ab1026" filter="url(#b3)" transform="rotate(-30 86.5 261)"/></g></g><path d="M84.5,222.4V246" stroke="#7c7c7c" stroke-width="0.9" stroke-dasharray="4.4 3"/><path d="M84.5,336V358" stroke="#7c7c7c" stroke-width="0.9" stroke-dasharray="4.4 3"/><path d="M124.5,222.4V268" stroke="#7c7c7c" stroke-width="0.9" stroke-dasharray="4.4 3"/><path d="M124.5,306V358" stroke="#7c7c7c" stroke-width="0.9" stroke-dasharray="4.4 3"/><path d="M36.5,222.4V358.5H181.0" stroke="#8c8c8c" stroke-width="1" fill="none"/><path d="M36.5,222.30h-2.6" stroke="#8c8c8c" stroke-width="0.9"/><text x="32.8" y="225.00" font-size="7.5" text-anchor="end" fill="#000">200</text><path d="M36.5,256.15h-2.6" stroke="#8c8c8c" stroke-width="0.9"/><text x="32.8" y="258.85" font-size="7.5" text-anchor="end" fill="#000">100</text><path d="M36.5,290.00h-2.6" stroke="#8c8c8c" stroke-width="0.9"/><text x="32.8" y="292.70" font-size="7.5" text-anchor="end" fill="#000">0</text><path d="M36.5,323.85h-2.6" stroke="#8c8c8c" stroke-width="0.9"/><text x="32.8" y="326.55" font-size="7.5" text-anchor="end" fill="#000">−100</text><text x="32.8" y="360.40" font-size="7.5" text-anchor="end" fill="#000">−200</text><text x="84.5" y="367.9" font-size="7.5" text-anchor="middle" fill="#000">−1</text><text x="124.5" y="367.9" font-size="7.5" text-anchor="middle" fill="#000">−2/3</text><text x="108.1" y="378.5" font-size="7.5" text-anchor="middle" fill="#000" font-style="italic" font-family="Liberation Serif">ν</text><text transform="translate(8.7,289.5) rotate(-90)" font-size="7.5" text-anchor="middle" fill="#000"><tspan font-style="italic">D</tspan>/<tspan font-style="italic" font-family="Liberation Serif">ε</tspan><tspan font-size="5" dy="1.5">0</tspan><tspan dy="-1.5"> (mV nm</tspan><tspan font-size="5" dy="-2.5">−1</tspan><tspan dy="2.5">)</tspan></text><rect x="134.4" y="251.6" width="36.4" height="6" fill="url(#rmcd)" stroke="#555" stroke-width="0.6"/><text x="133.9" y="248.8" font-size="7.5" text-anchor="middle" fill="#000">0</text><text x="170.4" y="248.8" font-size="7.5" text-anchor="middle" fill="#000">5</text><text x="135" y="237.1" font-size="7.5" fill="#000">RMCD (%)</text><clipPath id="cclip"><rect x="221.2" y="222.2" width="126.80000000000001" height="135.8"/></clipPath><rect x="221.2" y="222.2" width="126.80000000000001" height="135.8" fill="#000004"/><g clip-path="url(#cclip)"><path d="M297.5,215L298,242L285,272L271,300L266,330L252,365" stroke="#1a0838" stroke-width="18" fill="none" filter="url(#b5)" opacity="0.55"/><path d="M297.5,212L297.8,239" stroke="#4e1680" stroke-width="8" fill="none" filter="url(#b2)"/><path d="M298.5,243L291,256L283.5,270" stroke="#5a1a84" stroke-width="7.5" fill="none" filter="url(#b2)" stroke-linecap="round"/><path d="M297.5,246L291,256L284,269" stroke="#a83080" stroke-width="4.2" fill="none" filter="url(#b2)" stroke-linecap="round"/><path d="M292.5,254L288,261L284.5,268" stroke="#e45a70" stroke-width="2.6" fill="none" filter="url(#b1)" stroke-linecap="round"/><path d="M264,282C259,290 259,300 262,308" stroke="#2e0c60" stroke-width="3" fill="none" filter="url(#b1)" opacity="0.8"/><path d="M282,275C276,281 271.5,289 270.3,297C269.8,301 269.6,304 270,307" stroke="#862880" stroke-width="15" fill="none" filter="url(#b2)" stroke-linecap="round"/><path d="M282,275.5C276,281.5 272,289.5 270.8,297C270.4,301 270.3,303 270.5,306" stroke="#e0506c" stroke-width="10" fill="none" filter="url(#b1)" stroke-linecap="round"/><path d="M280.5,278C275.5,283.5 272.5,290 271.3,297C270.9,300 270.8,302 270.9,305" stroke="#fb9a70" stroke-width="7" fill="none" filter="url(#b1)" stroke-linecap="round"/><path d="M279,280.5C275,285.5 272.8,291 271.8,297C271.5,299.5 271.4,301.5 271.5,303.5" stroke="#fed898" stroke-width="4.6" fill="none" filter="url(#b06)" stroke-linecap="round"/><path d="M277,283.5C274.5,287.5 273,292 272.2,297C272,299 271.9,300.5 272,302" stroke="#fffbd8" stroke-width="2.8" fill="none" filter="url(#b06)" stroke-linecap="round"/><path d="M275,304L281,317" stroke="#4a1278" stroke-width="6" fill="none" filter="url(#b2)"/><ellipse cx="268.5" cy="323" rx="7" ry="10" fill="#6a1e84" filter="url(#b2)" transform="rotate(20 268.5 323)"/><ellipse cx="268" cy="324" rx="3.5" ry="5.5" fill="#b83a7c" filter="url(#b2)" transform="rotate(20 268 324)"/></g><path d="M227.1,267.4H230M234.7,267.4H240.4M245.1,267.4H250.8M255.9,267.4H261.3M266.5,267.4H271.7M276.9,267.4H279.8" stroke="#e6e6e6" stroke-width="1.1"/><path d="M227.1,275.1H230M234,275.1H239M243.2,275.1H248M252.7,275.1H257.5M261.7,275.1H266.5M271.2,275.1H274" stroke="#a8a8a8" stroke-width="1.1"/><path d="M227.1,312.4H230M234.2,312.4H239.4M243.7,312.4H248.9M253.7,312.4H258.9M263.6,312.4H266.5" stroke="#cccccc" stroke-width="1.1"/><path d="M256.50,358.0v-2.8" stroke="#9a9a9a" stroke-width="0.8"/><path d="M291.80,358.0v-2.8" stroke="#9a9a9a" stroke-width="0.8"/><path d="M327.10,358.0v-2.8" stroke="#9a9a9a" stroke-width="0.8"/><path d="M221.2,237.3h2.6" stroke="#9a9a9a" stroke-width="0.8"/><path d="M221.2,267.6h2.6" stroke="#9a9a9a" stroke-width="0.8"/><path d="M221.2,275.4h2.6" stroke="#9a9a9a" stroke-width="0.8"/><path d="M221.2,312.4h2.6" stroke="#9a9a9a" stroke-width="0.8"/><text x="221.20" y="367.0" font-size="7.5" text-anchor="middle" fill="#000">1.100</text><text x="256.50" y="367.0" font-size="7.5" text-anchor="middle" fill="#000">1.105</text><text x="291.80" y="367.0" font-size="7.5" text-anchor="middle" fill="#000">1.110</text><text x="327.10" y="367.0" font-size="7.5" text-anchor="middle" fill="#000">1.115</text><text x="285" y="378.7" font-size="7.2" text-anchor="middle" fill="#000">Energy (eV)</text><text x="217.6" y="240.00" font-size="7.5" text-anchor="end" fill="#000">−1/3</text><text x="217.6" y="270.30" font-size="7.5" text-anchor="end" fill="#000">−3/5</text><text x="217.6" y="278.10" font-size="7.5" text-anchor="end" fill="#000">−2/3</text><text x="217.6" y="315.10" font-size="7.5" text-anchor="end" fill="#000">−1</text><text transform="translate(197,290.5) rotate(-90)" font-size="7.5" text-anchor="middle" fill="#000" font-style="italic" font-family="Liberation Serif">ν</text><rect x="361.5" y="230.7" width="3.4" height="28.7" fill="url(#magma)"/><text x="367.6" y="232.0" font-size="7.5" fill="#000">3,000</text><text x="367.6" y="261.9" font-size="7.5" fill="#000">0</text><text transform="translate(357.4,244.5) rotate(-90)" font-size="7.5" text-anchor="middle" fill="#000">PL (counts)</text><text x="0.20" y="10.90" font-size="10.6" text-anchor="start" font-weight="bold" fill="#000" >a</text><text x="0.50" y="220.90" font-size="10.6" text-anchor="start" font-weight="bold" fill="#000" >b</text><text x="192.00" y="220.90" font-size="10.6" text-anchor="start" font-weight="bold" fill="#000" >c</text><text x="396.80" y="11.10" font-size="10.6" text-anchor="start" font-weight="bold" fill="#000" >d</text><text x="396.80" y="220.90" font-size="10.6" text-anchor="start" font-weight="bold" fill="#000" >e</text><path d="M426.5,34.40V170.5H553.8" stroke="#8a8a8a" stroke-width="1" fill="none"/><path d="M426.5,154.40h2.8" stroke="#8a8a8a" stroke-width="0.9"/><path d="M426.5,124.40h2.8" stroke="#8a8a8a" stroke-width="0.9"/><path d="M426.5,94.40h2.8" stroke="#8a8a8a" stroke-width="0.9"/><path d="M426.5,64.40h2.8" stroke="#8a8a8a" stroke-width="0.9"/><path d="M426.5,34.40h2.8" stroke="#8a8a8a" stroke-width="0.9"/><path d="M461.80,170.5v-3" stroke="#8a8a8a" stroke-width="0.9"/><path d="M496.90,170.5v-3" stroke="#8a8a8a" stroke-width="0.9"/><path d="M532.00,170.5v-3" stroke="#8a8a8a" stroke-width="0.9"/><path d="M558.5,34.40V170.5H685" stroke="#8a8a8a" stroke-width="1" fill="none"/><path d="M558.5,154.40h2.8" stroke="#8a8a8a" stroke-width="0.9"/><path d="M558.5,124.40h2.8" stroke="#8a8a8a" stroke-width="0.9"/><path d="M558.5,94.40h2.8" stroke="#8a8a8a" stroke-width="0.9"/><path d="M558.5,64.40h2.8" stroke="#8a8a8a" stroke-width="0.9"/><path d="M558.5,34.40h2.8" stroke="#8a8a8a" stroke-width="0.9"/><path d="M593.80,170.5v-3" stroke="#8a8a8a" stroke-width="0.9"/><path d="M628.90,170.5v-3" stroke="#8a8a8a" stroke-width="0.9"/><path d="M664.00,170.5v-3" stroke="#8a8a8a" stroke-width="0.9"/><text x="423.20" y="157.10" font-size="7.5" text-anchor="end" font-weight="normal" fill="#000" >0</text><text x="423.20" y="127.10" font-size="7.5" text-anchor="end" font-weight="normal" fill="#000" >200</text><text x="423.20" y="97.10" font-size="7.5" text-anchor="end" font-weight="normal" fill="#000" >400</text><text x="423.20" y="67.10" font-size="7.5" text-anchor="end" font-weight="normal" fill="#000" >600</text><text x="423.20" y="37.10" font-size="7.5" text-anchor="end" font-weight="normal" fill="#000" >800</text><text x="426.70" y="179.20" font-size="7.5" text-anchor="middle" font-weight="normal" fill="#000" >1.100</text><text x="461.80" y="179.20" font-size="7.5" text-anchor="middle" font-weight="normal" fill="#000" >1.105</text><text x="496.90" y="179.20" font-size="7.5" text-anchor="middle" font-weight="normal" fill="#000" >1.110</text><text x="532.00" y="179.20" font-size="7.5" text-anchor="middle" font-weight="normal" fill="#000" >1.115</text><text x="558.30" y="179.20" font-size="7.5" text-anchor="middle" font-weight="normal" fill="#000" >1.100</text><text x="593.40" y="179.20" font-size="7.5" text-anchor="middle" font-weight="normal" fill="#000" >1.105</text><text x="628.50" y="179.20" font-size="7.5" text-anchor="middle" font-weight="normal" fill="#000" >1.110</text><text x="663.60" y="179.20" font-size="7.5" text-anchor="middle" font-weight="normal" fill="#000" >1.115</text><text x="554.30" y="191.10" font-size="7.2" text-anchor="middle" font-weight="normal" fill="#000" >Energy (eV)</text><text transform="translate(402.8,101.90) rotate(-90)" font-size="7.5" text-anchor="middle" fill="#000">PL (counts)</text><text x="555.00" y="30.00" font-size="7.5" text-anchor="middle" font-weight="normal" fill="#000" ><tspan font-style="italic" font-family="Liberation Serif">ν</tspan> = −1</text><text x="433.00" y="48.30" font-size="7.7" text-anchor="start" font-weight="normal" fill="#000" >Before pump</text><text x="564.80" y="48.30" font-size="7.7" text-anchor="start" font-weight="normal" fill="#000" >Pump σ−</text><circle cx="507.4" cy="48.40" r="1.8" fill="#b8203a"/><circle cx="507.4" cy="58.90" r="1.8" fill="#0a5294"/><text x="513.00" y="50.60" font-size="7.5" text-anchor="start" font-weight="normal" fill="#000" >Collect σ+</text><text x="513.00" y="61.10" font-size="7.5" text-anchor="start" font-weight="normal" fill="#000" >Collect σ−</text><clipPath id="lc1"><rect x="426.7" y="0" width="127.1" height="381"/></clipPath><clipPath id="lc1r"><rect x="558.3" y="0" width="130" height="381"/></clipPath><g fill="#b8203a" clip-path="url(#lc1)"><circle cx="426.5" cy="151.5" r="2.4"/><circle cx="427.2" cy="158.6" r="2.4"/><circle cx="427.8" cy="158.5" r="2.4"/><circle cx="428.5" cy="153.0" r="2.4"/><circle cx="428.8" cy="148.8" r="2.4"/><circle cx="429.5" cy="153.4" r="2.4"/><circle cx="430.2" cy="151.1" r="2.4"/><circle cx="430.7" cy="154.4" r="2.4"/><circle cx="431.0" cy="148.3" r="2.4"/><circle cx="431.5" cy="156.6" r="2.4"/><circle cx="432.1" cy="161.3" r="2.4"/><circle cx="432.8" cy="156.2" r="2.4"/><circle cx="433.3" cy="155.0" r="2.4"/><circle cx="433.8" cy="154.1" r="2.4"/><circle cx="434.5" cy="156.6" r="2.4"/><circle cx="435.0" cy="154.3" r="2.4"/><circle cx="435.5" cy="156.8" r="2.4"/><circle cx="436.0" cy="153.8" r="2.4"/><circle cx="436.9" cy="158.4" r="2.4"/><circle cx="437.2" cy="155.9" r="2.4"/><circle cx="438.1" cy="153.4" r="2.4"/><circle cx="438.3" cy="155.6" r="2.4"/><circle cx="439.1" cy="156.1" r="2.4"/><circle cx="439.5" cy="161.2" r="2.4"/><circle cx="440.2" cy="155.6" r="2.4"/><circle cx="440.7" cy="156.6" r="2.4"/><circle cx="441.4" cy="152.4" r="2.4"/><circle cx="441.8" cy="157.3" r="2.4"/><circle cx="442.1" cy="154.2" r="2.4"/><circle cx="442.8" cy="149.0" r="2.4"/><circle cx="443.3" cy="158.9" r="2.4"/><circle cx="444.1" cy="155.8" r="2.4"/><circle cx="444.5" cy="157.7" r="2.4"/><circle cx="445.2" cy="153.1" r="2.4"/><circle cx="445.7" cy="157.1" r="2.4"/><circle cx="446.0" cy="152.2" r="2.4"/><circle cx="446.6" cy="156.9" r="2.4"/><circle cx="447.4" cy="162.6" r="2.4"/><circle cx="447.9" cy="152.7" r="2.4"/><circle cx="448.7" cy="151.3" r="2.4"/><circle cx="449.1" cy="160.2" r="2.4"/><circle cx="449.5" cy="155.9" r="2.4"/><circle cx="450.1" cy="150.6" r="2.4"/><circle cx="450.7" cy="155.6" r="2.4"/><circle cx="451.1" cy="161.6" r="2.4"/><circle cx="451.6" cy="156.6" r="2.4"/><circle cx="452.5" cy="151.7" r="2.4"/><circle cx="453.0" cy="160.0" r="2.4"/><circle cx="453.6" cy="158.2" r="2.4"/><circle cx="454.0" cy="154.8" r="2.4"/><circle cx="454.4" cy="151.7" r="2.4"/><circle cx="455.0" cy="157.2" r="2.4"/><circle cx="455.7" cy="157.2" r="2.4"/><circle cx="456.2" cy="154.1" r="2.4"/><circle cx="456.8" cy="157.3" r="2.4"/><circle cx="457.4" cy="157.3" r="2.4"/><circle cx="457.7" cy="154.1" r="2.4"/><circle cx="458.5" cy="152.5" r="2.4"/><circle cx="459.2" cy="152.8" r="2.4"/><circle cx="459.7" cy="159.5" r="2.4"/><circle cx="460.1" cy="151.9" r="2.4"/><circle cx="460.6" cy="158.1" r="2.4"/><circle cx="461.1" cy="149.3" r="2.4"/><circle cx="461.7" cy="153.9" r="2.4"/><circle cx="462.2" cy="156.3" r="2.4"/><circle cx="462.8" cy="156.2" r="2.4"/><circle cx="463.4" cy="156.1" r="2.4"/><circle cx="464.0" cy="154.5" r="2.4"/><circle cx="464.7" cy="156.7" r="2.4"/><circle cx="465.2" cy="153.4" r="2.4"/><circle cx="465.5" cy="156.5" r="2.4"/><circle cx="466.2" cy="152.0" r="2.4"/><circle cx="466.7" cy="151.1" r="2.4"/><circle cx="467.3" cy="156.1" r="2.4"/><circle cx="468.0" cy="153.6" r="2.4"/><circle cx="468.3" cy="154.4" r="2.4"/><circle cx="468.9" cy="154.1" r="2.4"/><circle cx="469.7" cy="155.4" r="2.4"/><circle cx="470.3" cy="155.6" r="2.4"/><circle cx="471.0" cy="154.0" r="2.4"/><circle cx="471.5" cy="155.4" r="2.4"/><circle cx="471.9" cy="153.4" r="2.4"/><circle cx="472.4" cy="155.5" r="2.4"/><circle cx="473.1" cy="154.2" r="2.4"/><circle cx="473.4" cy="155.3" r="2.4"/><circle cx="474.3" cy="145.2" r="2.4"/><circle cx="474.6" cy="151.0" r="2.4"/><circle cx="475.4" cy="154.5" r="2.4"/><circle cx="475.9" cy="154.3" r="2.4"/><circle cx="476.1" cy="151.2" r="2.4"/><circle cx="477.1" cy="146.7" r="2.4"/><circle cx="477.7" cy="150.7" r="2.4"/><circle cx="478.1" cy="149.1" r="2.4"/><circle cx="478.8" cy="146.6" r="2.4"/><circle cx="479.2" cy="154.7" r="2.4"/><circle cx="479.6" cy="151.9" r="2.4"/><circle cx="480.1" cy="153.2" r="2.4"/><circle cx="480.7" cy="154.6" r="2.4"/><circle cx="481.2" cy="153.0" r="2.4"/><circle cx="481.9" cy="153.9" r="2.4"/><circle cx="482.4" cy="147.3" r="2.4"/><circle cx="482.8" cy="156.4" r="2.4"/><circle cx="483.5" cy="155.9" r="2.4"/><circle cx="484.3" cy="144.1" r="2.4"/><circle cx="484.6" cy="150.9" r="2.4"/><circle cx="485.4" cy="147.7" r="2.4"/><circle cx="486.0" cy="155.6" r="2.4"/><circle cx="486.5" cy="147.1" r="2.4"/><circle cx="486.9" cy="150.2" r="2.4"/><circle cx="487.6" cy="152.7" r="2.4"/><circle cx="487.9" cy="149.4" r="2.4"/><circle cx="488.5" cy="146.9" r="2.4"/><circle cx="489.3" cy="157.5" r="2.4"/><circle cx="489.7" cy="156.3" r="2.4"/><circle cx="490.2" cy="154.6" r="2.4"/><circle cx="490.9" cy="147.4" r="2.4"/><circle cx="491.6" cy="152.1" r="2.4"/><circle cx="492.0" cy="154.5" r="2.4"/><circle cx="492.4" cy="152.3" r="2.4"/><circle cx="493.2" cy="153.3" r="2.4"/><circle cx="493.8" cy="152.4" r="2.4"/><circle cx="494.2" cy="156.2" r="2.4"/><circle cx="494.9" cy="156.7" r="2.4"/><circle cx="495.2" cy="151.2" r="2.4"/><circle cx="495.7" cy="154.6" r="2.4"/><circle cx="496.5" cy="147.8" r="2.4"/><circle cx="497.2" cy="156.4" r="2.4"/><circle cx="497.7" cy="153.5" r="2.4"/><circle cx="498.2" cy="149.7" r="2.4"/><circle cx="498.5" cy="153.9" r="2.4"/><circle cx="499.1" cy="153.6" r="2.4"/><circle cx="499.7" cy="154.8" r="2.4"/><circle cx="500.5" cy="155.6" r="2.4"/><circle cx="500.8" cy="153.6" r="2.4"/><circle cx="501.3" cy="154.4" r="2.4"/><circle cx="502.2" cy="155.7" r="2.4"/><circle cx="502.5" cy="147.9" r="2.4"/><circle cx="503.0" cy="155.6" r="2.4"/><circle cx="503.6" cy="155.7" r="2.4"/><circle cx="504.3" cy="154.2" r="2.4"/><circle cx="504.6" cy="145.9" r="2.4"/><circle cx="505.3" cy="153.8" r="2.4"/><circle cx="506.0" cy="156.9" r="2.4"/><circle cx="506.3" cy="153.6" r="2.4"/><circle cx="507.2" cy="146.6" r="2.4"/><circle cx="507.4" cy="155.9" r="2.4"/><circle cx="508.0" cy="160.6" r="2.4"/><circle cx="508.7" cy="160.1" r="2.4"/><circle cx="509.3" cy="155.6" r="2.4"/><circle cx="509.8" cy="156.4" r="2.4"/><circle cx="510.3" cy="154.4" r="2.4"/><circle cx="510.8" cy="153.2" r="2.4"/><circle cx="511.7" cy="158.5" r="2.4"/><circle cx="512.1" cy="153.0" r="2.4"/><circle cx="512.8" cy="156.4" r="2.4"/><circle cx="513.1" cy="152.8" r="2.4"/><circle cx="513.6" cy="150.8" r="2.4"/><circle cx="514.2" cy="159.6" r="2.4"/><circle cx="514.8" cy="158.2" r="2.4"/><circle cx="515.4" cy="155.5" r="2.4"/><circle cx="515.8" cy="152.2" r="2.4"/><circle cx="516.3" cy="154.1" r="2.4"/><circle cx="517.1" cy="153.3" r="2.4"/><circle cx="517.7" cy="153.9" r="2.4"/><circle cx="518.1" cy="153.5" r="2.4"/><circle cx="518.9" cy="157.8" r="2.4"/><circle cx="519.2" cy="159.7" r="2.4"/><circle cx="519.7" cy="154.4" r="2.4"/><circle cx="520.6" cy="152.0" r="2.4"/><circle cx="521.2" cy="149.8" r="2.4"/><circle cx="521.7" cy="155.0" r="2.4"/><circle cx="522.1" cy="153.1" r="2.4"/><circle cx="522.8" cy="156.1" r="2.4"/><circle cx="523.1" cy="148.3" r="2.4"/><circle cx="523.9" cy="151.8" r="2.4"/><circle cx="524.5" cy="153.9" r="2.4"/><circle cx="525.0" cy="149.6" r="2.4"/><circle cx="525.5" cy="157.6" r="2.4"/><circle cx="526.1" cy="153.0" r="2.4"/><circle cx="526.4" cy="151.5" r="2.4"/><circle cx="527.2" cy="155.5" r="2.4"/><circle cx="527.5" cy="156.4" r="2.4"/><circle cx="528.4" cy="153.0" r="2.4"/><circle cx="528.8" cy="157.9" r="2.4"/><circle cx="529.5" cy="157.3" r="2.4"/><circle cx="529.8" cy="153.5" r="2.4"/><circle cx="530.4" cy="150.1" r="2.4"/><circle cx="531.0" cy="153.7" r="2.4"/><circle cx="531.6" cy="151.8" r="2.4"/><circle cx="532.0" cy="153.3" r="2.4"/><circle cx="532.5" cy="154.7" r="2.4"/><circle cx="533.2" cy="148.8" r="2.4"/><circle cx="533.8" cy="156.1" r="2.4"/><circle cx="534.2" cy="155.8" r="2.4"/><circle cx="534.9" cy="158.7" r="2.4"/><circle cx="535.5" cy="154.4" r="2.4"/><circle cx="536.1" cy="154.7" r="2.4"/><circle cx="536.6" cy="156.6" r="2.4"/><circle cx="537.1" cy="153.9" r="2.4"/><circle cx="537.7" cy="151.3" r="2.4"/><circle cx="538.4" cy="152.3" r="2.4"/><circle cx="538.9" cy="155.6" r="2.4"/><circle cx="539.2" cy="151.2" r="2.4"/><circle cx="540.1" cy="152.8" r="2.4"/><circle cx="540.4" cy="153.8" r="2.4"/><circle cx="541.0" cy="160.6" r="2.4"/><circle cx="541.7" cy="152.7" r="2.4"/><circle cx="542.3" cy="156.8" r="2.4"/><circle cx="542.8" cy="159.3" r="2.4"/><circle cx="543.5" cy="157.7" r="2.4"/><circle cx="544.0" cy="156.1" r="2.4"/><circle cx="544.3" cy="155.2" r="2.4"/><circle cx="544.8" cy="159.0" r="2.4"/><circle cx="545.3" cy="156.5" r="2.4"/><circle cx="546.2" cy="155.0" r="2.4"/><circle cx="546.6" cy="157.1" r="2.4"/><circle cx="547.1" cy="154.5" r="2.4"/><circle cx="548.0" cy="155.3" r="2.4"/><circle cx="548.4" cy="156.0" r="2.4"/><circle cx="549.0" cy="156.1" r="2.4"/><circle cx="549.6" cy="151.1" r="2.4"/><circle cx="550.1" cy="150.4" r="2.4"/><circle cx="550.6" cy="155.4" r="2.4"/><circle cx="551.3" cy="157.5" r="2.4"/><circle cx="551.9" cy="158.4" r="2.4"/></g><g fill="#0a5294" clip-path="url(#lc1)"><circle cx="426.7" cy="149.9" r="2.4"/><circle cx="427.1" cy="154.7" r="2.4"/><circle cx="428.0" cy="152.4" r="2.4"/><circle cx="428.6" cy="150.6" r="2.4"/><circle cx="428.9" cy="150.8" r="2.4"/><circle cx="429.3" cy="154.6" r="2.4"/><circle cx="430.2" cy="151.4" r="2.4"/><circle cx="430.4" cy="152.5" r="2.4"/><circle cx="431.0" cy="150.5" r="2.4"/><circle cx="431.8" cy="158.7" r="2.4"/><circle cx="432.2" cy="157.6" r="2.4"/><circle cx="432.7" cy="156.3" r="2.4"/><circle cx="433.4" cy="154.4" r="2.4"/><circle cx="433.8" cy="156.1" r="2.4"/><circle cx="434.6" cy="159.1" r="2.4"/><circle cx="435.3" cy="157.4" r="2.4"/><circle cx="435.8" cy="154.8" r="2.4"/><circle cx="436.3" cy="156.6" r="2.4"/><circle cx="436.7" cy="155.0" r="2.4"/><circle cx="437.1" cy="153.1" r="2.4"/><circle cx="438.0" cy="155.2" r="2.4"/><circle cx="438.4" cy="148.1" r="2.4"/><circle cx="439.2" cy="154.8" r="2.4"/><circle cx="439.4" cy="157.9" r="2.4"/><circle cx="440.0" cy="153.5" r="2.4"/><circle cx="440.6" cy="156.0" r="2.4"/><circle cx="441.0" cy="150.3" r="2.4"/><circle cx="441.7" cy="156.1" r="2.4"/><circle cx="442.3" cy="152.5" r="2.4"/><circle cx="443.0" cy="154.9" r="2.4"/><circle cx="443.5" cy="156.9" r="2.4"/><circle cx="443.9" cy="153.3" r="2.4"/><circle cx="444.5" cy="153.0" r="2.4"/><circle cx="445.2" cy="148.7" r="2.4"/><circle cx="445.7" cy="157.4" r="2.4"/><circle cx="446.4" cy="159.3" r="2.4"/><circle cx="446.7" cy="151.7" r="2.4"/><circle cx="447.4" cy="150.3" r="2.4"/><circle cx="447.8" cy="153.3" r="2.4"/><circle cx="448.5" cy="156.1" r="2.4"/><circle cx="448.8" cy="153.6" r="2.4"/><circle cx="449.5" cy="155.9" r="2.4"/><circle cx="450.3" cy="151.3" r="2.4"/><circle cx="450.7" cy="153.5" r="2.4"/><circle cx="451.3" cy="159.8" r="2.4"/><circle cx="451.8" cy="152.8" r="2.4"/><circle cx="452.4" cy="157.3" r="2.4"/><circle cx="453.0" cy="156.4" r="2.4"/><circle cx="453.5" cy="149.9" r="2.4"/><circle cx="454.2" cy="151.1" r="2.4"/><circle cx="454.7" cy="158.6" r="2.4"/><circle cx="455.3" cy="154.6" r="2.4"/><circle cx="455.6" cy="154.0" r="2.4"/><circle cx="456.4" cy="149.1" r="2.4"/><circle cx="456.7" cy="154.9" r="2.4"/><circle cx="457.5" cy="155.5" r="2.4"/><circle cx="457.7" cy="151.4" r="2.4"/><circle cx="458.5" cy="151.7" r="2.4"/><circle cx="459.0" cy="154.9" r="2.4"/><circle cx="459.7" cy="147.4" r="2.4"/><circle cx="460.4" cy="150.6" r="2.4"/><circle cx="460.8" cy="155.0" r="2.4"/><circle cx="461.3" cy="147.8" r="2.4"/><circle cx="461.7" cy="148.8" r="2.4"/><circle cx="462.3" cy="143.7" r="2.4"/><circle cx="462.8" cy="148.2" r="2.4"/><circle cx="463.5" cy="153.3" r="2.4"/><circle cx="464.1" cy="149.7" r="2.4"/><circle cx="464.7" cy="151.1" r="2.4"/><circle cx="465.3" cy="147.7" r="2.4"/><circle cx="465.8" cy="150.7" r="2.4"/><circle cx="466.2" cy="149.9" r="2.4"/><circle cx="467.0" cy="147.9" r="2.4"/><circle cx="467.6" cy="147.6" r="2.4"/><circle cx="468.2" cy="143.5" r="2.4"/><circle cx="468.6" cy="144.3" r="2.4"/><circle cx="469.3" cy="144.1" r="2.4"/><circle cx="469.7" cy="143.8" r="2.4"/><circle cx="470.3" cy="137.3" r="2.4"/><circle cx="470.9" cy="136.8" r="2.4"/><circle cx="471.2" cy="133.0" r="2.4"/><circle cx="472.1" cy="139.8" r="2.4"/><circle cx="472.5" cy="127.8" r="2.4"/><circle cx="473.0" cy="127.2" r="2.4"/><circle cx="473.4" cy="120.3" r="2.4"/><circle cx="474.0" cy="120.4" r="2.4"/><circle cx="474.8" cy="115.1" r="2.4"/><circle cx="475.1" cy="109.5" r="2.4"/><circle cx="475.7" cy="107.2" r="2.4"/><circle cx="476.2" cy="99.5" r="2.4"/><circle cx="476.7" cy="87.3" r="2.4"/><circle cx="477.3" cy="78.1" r="2.4"/><circle cx="478.2" cy="70.5" r="2.4"/><circle cx="478.5" cy="64.0" r="2.4"/><circle cx="479.3" cy="60.4" r="2.4"/><circle cx="479.9" cy="60.1" r="2.4"/><circle cx="480.4" cy="58.3" r="2.4"/><circle cx="480.6" cy="56.7" r="2.4"/><circle cx="481.3" cy="59.1" r="2.4"/><circle cx="481.9" cy="62.7" r="2.4"/><circle cx="482.4" cy="63.7" r="2.4"/><circle cx="483.2" cy="77.8" r="2.4"/><circle cx="483.5" cy="76.1" r="2.4"/><circle cx="484.2" cy="88.8" r="2.4"/><circle cx="484.9" cy="90.6" r="2.4"/><circle cx="485.5" cy="95.9" r="2.4"/><circle cx="486.0" cy="105.5" r="2.4"/><circle cx="486.3" cy="113.9" r="2.4"/><circle cx="487.1" cy="115.6" r="2.4"/><circle cx="487.5" cy="117.4" r="2.4"/><circle cx="487.9" cy="128.8" r="2.4"/><circle cx="488.8" cy="129.1" r="2.4"/><circle cx="489.2" cy="133.3" r="2.4"/><circle cx="489.5" cy="136.3" r="2.4"/><circle cx="490.3" cy="137.1" r="2.4"/><circle cx="491.0" cy="140.1" r="2.4"/><circle cx="491.2" cy="142.0" r="2.4"/><circle cx="492.1" cy="141.2" r="2.4"/><circle cx="492.4" cy="143.6" r="2.4"/><circle cx="492.9" cy="140.7" r="2.4"/><circle cx="493.7" cy="145.7" r="2.4"/><circle cx="494.3" cy="144.5" r="2.4"/><circle cx="494.7" cy="151.7" r="2.4"/><circle cx="495.4" cy="143.6" r="2.4"/><circle cx="495.8" cy="149.5" r="2.4"/><circle cx="496.2" cy="144.9" r="2.4"/><circle cx="496.9" cy="151.1" r="2.4"/><circle cx="497.6" cy="153.5" r="2.4"/><circle cx="497.9" cy="151.4" r="2.4"/><circle cx="498.6" cy="152.1" r="2.4"/><circle cx="499.4" cy="149.4" r="2.4"/><circle cx="499.7" cy="153.4" r="2.4"/><circle cx="500.4" cy="155.4" r="2.4"/><circle cx="501.0" cy="151.1" r="2.4"/><circle cx="501.7" cy="153.8" r="2.4"/><circle cx="501.9" cy="145.7" r="2.4"/><circle cx="502.7" cy="154.7" r="2.4"/><circle cx="502.9" cy="146.5" r="2.4"/><circle cx="503.7" cy="148.5" r="2.4"/><circle cx="504.2" cy="151.0" r="2.4"/><circle cx="504.8" cy="152.1" r="2.4"/><circle cx="505.3" cy="149.8" r="2.4"/><circle cx="506.0" cy="149.8" r="2.4"/><circle cx="506.6" cy="148.4" r="2.4"/><circle cx="506.9" cy="151.7" r="2.4"/><circle cx="507.7" cy="151.7" r="2.4"/><circle cx="508.1" cy="152.1" r="2.4"/><circle cx="508.8" cy="153.3" r="2.4"/><circle cx="509.4" cy="151.1" r="2.4"/><circle cx="509.9" cy="151.0" r="2.4"/><circle cx="510.3" cy="155.0" r="2.4"/><circle cx="510.8" cy="155.6" r="2.4"/><circle cx="511.4" cy="153.9" r="2.4"/><circle cx="512.2" cy="148.8" r="2.4"/><circle cx="512.4" cy="154.2" r="2.4"/><circle cx="513.2" cy="162.4" r="2.4"/><circle cx="513.8" cy="150.0" r="2.4"/><circle cx="514.4" cy="154.4" r="2.4"/><circle cx="515.0" cy="157.1" r="2.4"/><circle cx="515.5" cy="153.7" r="2.4"/><circle cx="515.9" cy="151.4" r="2.4"/><circle cx="516.5" cy="150.8" r="2.4"/><circle cx="517.1" cy="151.6" r="2.4"/><circle cx="517.4" cy="151.4" r="2.4"/><circle cx="518.1" cy="157.8" r="2.4"/><circle cx="518.7" cy="155.2" r="2.4"/><circle cx="519.4" cy="151.1" r="2.4"/><circle cx="519.9" cy="155.3" r="2.4"/><circle cx="520.6" cy="153.8" r="2.4"/><circle cx="520.9" cy="154.1" r="2.4"/><circle cx="521.7" cy="152.4" r="2.4"/><circle cx="522.1" cy="147.1" r="2.4"/><circle cx="522.8" cy="157.5" r="2.4"/><circle cx="523.3" cy="147.0" r="2.4"/><circle cx="523.9" cy="157.0" r="2.4"/><circle cx="524.2" cy="157.9" r="2.4"/><circle cx="525.1" cy="154.3" r="2.4"/><circle cx="525.6" cy="155.3" r="2.4"/><circle cx="525.9" cy="158.9" r="2.4"/><circle cx="526.7" cy="155.8" r="2.4"/><circle cx="527.1" cy="156.4" r="2.4"/><circle cx="527.9" cy="155.7" r="2.4"/><circle cx="528.1" cy="154.2" r="2.4"/><circle cx="528.9" cy="160.4" r="2.4"/><circle cx="529.2" cy="156.6" r="2.4"/><circle cx="529.9" cy="154.0" r="2.4"/><circle cx="530.3" cy="154.9" r="2.4"/><circle cx="531.0" cy="154.0" r="2.4"/><circle cx="531.5" cy="152.3" r="2.4"/><circle cx="532.2" cy="155.2" r="2.4"/><circle cx="532.5" cy="154.1" r="2.4"/><circle cx="533.4" cy="155.1" r="2.4"/><circle cx="534.0" cy="155.5" r="2.4"/><circle cx="534.2" cy="158.2" r="2.4"/><circle cx="535.0" cy="149.2" r="2.4"/><circle cx="535.4" cy="150.5" r="2.4"/><circle cx="536.2" cy="156.7" r="2.4"/><circle cx="536.8" cy="158.4" r="2.4"/><circle cx="537.2" cy="151.7" r="2.4"/><circle cx="537.9" cy="152.4" r="2.4"/><circle cx="538.4" cy="159.0" r="2.4"/><circle cx="539.0" cy="154.1" r="2.4"/><circle cx="539.5" cy="151.8" r="2.4"/><circle cx="540.1" cy="157.8" r="2.4"/><circle cx="540.5" cy="154.3" r="2.4"/><circle cx="541.2" cy="152.8" r="2.4"/><circle cx="541.4" cy="158.2" r="2.4"/><circle cx="542.3" cy="156.1" r="2.4"/><circle cx="542.6" cy="153.5" r="2.4"/><circle cx="543.4" cy="152.4" r="2.4"/><circle cx="543.8" cy="154.0" r="2.4"/><circle cx="544.6" cy="154.2" r="2.4"/><circle cx="545.0" cy="162.8" r="2.4"/><circle cx="545.6" cy="157.9" r="2.4"/><circle cx="546.1" cy="155.3" r="2.4"/><circle cx="546.8" cy="150.8" r="2.4"/><circle cx="547.2" cy="155.0" r="2.4"/><circle cx="547.7" cy="155.3" r="2.4"/><circle cx="548.3" cy="150.4" r="2.4"/><circle cx="548.9" cy="152.1" r="2.4"/><circle cx="549.5" cy="154.4" r="2.4"/><circle cx="550.2" cy="154.5" r="2.4"/><circle cx="550.5" cy="158.4" r="2.4"/><circle cx="551.1" cy="147.6" r="2.4"/><circle cx="551.7" cy="156.8" r="2.4"/></g><g fill="#b8203a" clip-path="url(#lc1r)"><circle cx="558.5" cy="148.2" r="2.4"/><circle cx="558.8" cy="156.7" r="2.4"/><circle cx="559.4" cy="152.9" r="2.4"/><circle cx="560.1" cy="156.9" r="2.4"/><circle cx="560.6" cy="155.7" r="2.4"/><circle cx="561.0" cy="150.7" r="2.4"/><circle cx="561.7" cy="154.3" r="2.4"/><circle cx="562.2" cy="153.4" r="2.4"/><circle cx="562.8" cy="151.0" r="2.4"/><circle cx="563.4" cy="157.2" r="2.4"/><circle cx="564.2" cy="153.9" r="2.4"/><circle cx="564.7" cy="149.7" r="2.4"/><circle cx="565.3" cy="158.9" r="2.4"/><circle cx="565.7" cy="151.3" r="2.4"/><circle cx="566.4" cy="162.4" r="2.4"/><circle cx="567.0" cy="153.1" r="2.4"/><circle cx="567.3" cy="147.7" r="2.4"/><circle cx="567.9" cy="147.3" r="2.4"/><circle cx="568.4" cy="153.7" r="2.4"/><circle cx="569.4" cy="149.8" r="2.4"/><circle cx="569.7" cy="154.6" r="2.4"/><circle cx="570.2" cy="159.7" r="2.4"/><circle cx="571.0" cy="149.3" r="2.4"/><circle cx="571.5" cy="153.6" r="2.4"/><circle cx="572.0" cy="145.2" r="2.4"/><circle cx="572.5" cy="156.3" r="2.4"/><circle cx="573.2" cy="157.7" r="2.4"/><circle cx="573.6" cy="151.0" r="2.4"/><circle cx="574.3" cy="154.0" r="2.4"/><circle cx="575.1" cy="149.5" r="2.4"/><circle cx="575.7" cy="152.1" r="2.4"/><circle cx="575.9" cy="158.0" r="2.4"/><circle cx="576.6" cy="154.5" r="2.4"/><circle cx="577.2" cy="155.5" r="2.4"/><circle cx="578.0" cy="148.2" r="2.4"/><circle cx="578.2" cy="148.7" r="2.4"/><circle cx="578.9" cy="151.1" r="2.4"/><circle cx="579.5" cy="154.2" r="2.4"/><circle cx="580.1" cy="145.0" r="2.4"/><circle cx="580.6" cy="159.5" r="2.4"/><circle cx="581.2" cy="149.5" r="2.4"/><circle cx="581.7" cy="155.2" r="2.4"/><circle cx="582.5" cy="154.6" r="2.4"/><circle cx="582.8" cy="149.3" r="2.4"/><circle cx="583.7" cy="156.6" r="2.4"/><circle cx="584.3" cy="158.7" r="2.4"/><circle cx="584.6" cy="155.8" r="2.4"/><circle cx="585.4" cy="153.1" r="2.4"/><circle cx="586.0" cy="151.8" r="2.4"/><circle cx="586.5" cy="149.4" r="2.4"/><circle cx="586.9" cy="150.5" r="2.4"/><circle cx="587.6" cy="150.2" r="2.4"/><circle cx="588.2" cy="147.7" r="2.4"/><circle cx="588.7" cy="152.6" r="2.4"/><circle cx="589.1" cy="153.8" r="2.4"/><circle cx="589.9" cy="149.9" r="2.4"/><circle cx="590.3" cy="150.4" r="2.4"/><circle cx="591.0" cy="147.9" r="2.4"/><circle cx="591.5" cy="152.4" r="2.4"/><circle cx="592.3" cy="151.8" r="2.4"/><circle cx="592.8" cy="151.4" r="2.4"/><circle cx="593.2" cy="150.4" r="2.4"/><circle cx="593.9" cy="153.5" r="2.4"/><circle cx="594.6" cy="154.2" r="2.4"/><circle cx="594.9" cy="152.2" r="2.4"/><circle cx="595.4" cy="148.8" r="2.4"/><circle cx="596.0" cy="148.5" r="2.4"/><circle cx="596.7" cy="146.4" r="2.4"/><circle cx="597.4" cy="151.8" r="2.4"/><circle cx="597.8" cy="148.7" r="2.4"/><circle cx="598.3" cy="152.2" r="2.4"/><circle cx="599.0" cy="147.8" r="2.4"/><circle cx="599.4" cy="141.4" r="2.4"/><circle cx="600.2" cy="141.9" r="2.4"/><circle cx="600.6" cy="140.5" r="2.4"/><circle cx="601.5" cy="133.3" r="2.4"/><circle cx="601.8" cy="140.2" r="2.4"/><circle cx="602.3" cy="137.4" r="2.4"/><circle cx="603.0" cy="129.8" r="2.4"/><circle cx="603.7" cy="124.8" r="2.4"/><circle cx="604.3" cy="121.7" r="2.4"/><circle cx="604.8" cy="117.9" r="2.4"/><circle cx="605.2" cy="116.6" r="2.4"/><circle cx="605.7" cy="108.0" r="2.4"/><circle cx="606.3" cy="102.5" r="2.4"/><circle cx="607.2" cy="91.7" r="2.4"/><circle cx="607.7" cy="89.0" r="2.4"/><circle cx="608.1" cy="79.5" r="2.4"/><circle cx="608.8" cy="80.6" r="2.4"/><circle cx="609.3" cy="64.7" r="2.4"/><circle cx="610.0" cy="69.5" r="2.4"/><circle cx="610.5" cy="67.4" r="2.4"/><circle cx="611.2" cy="64.2" r="2.4"/><circle cx="611.7" cy="57.2" r="2.4"/><circle cx="612.2" cy="65.0" r="2.4"/><circle cx="612.7" cy="65.5" r="2.4"/><circle cx="613.5" cy="72.7" r="2.4"/><circle cx="613.7" cy="75.0" r="2.4"/><circle cx="614.5" cy="78.8" r="2.4"/><circle cx="615.0" cy="83.8" r="2.4"/><circle cx="615.7" cy="92.9" r="2.4"/><circle cx="616.2" cy="96.6" r="2.4"/><circle cx="616.8" cy="106.4" r="2.4"/><circle cx="617.3" cy="109.5" r="2.4"/><circle cx="618.0" cy="120.8" r="2.4"/><circle cx="618.7" cy="123.3" r="2.4"/><circle cx="619.2" cy="126.3" r="2.4"/><circle cx="619.6" cy="129.4" r="2.4"/><circle cx="620.3" cy="128.7" r="2.4"/><circle cx="620.7" cy="128.5" r="2.4"/><circle cx="621.5" cy="137.0" r="2.4"/><circle cx="622.1" cy="134.1" r="2.4"/><circle cx="622.5" cy="139.9" r="2.4"/><circle cx="623.3" cy="144.6" r="2.4"/><circle cx="623.6" cy="145.7" r="2.4"/><circle cx="624.3" cy="144.8" r="2.4"/><circle cx="624.7" cy="149.0" r="2.4"/><circle cx="625.4" cy="152.1" r="2.4"/><circle cx="625.8" cy="140.2" r="2.4"/><circle cx="626.6" cy="150.3" r="2.4"/><circle cx="627.1" cy="154.8" r="2.4"/><circle cx="627.7" cy="151.5" r="2.4"/><circle cx="628.4" cy="152.2" r="2.4"/><circle cx="629.0" cy="151.7" r="2.4"/><circle cx="629.4" cy="150.8" r="2.4"/><circle cx="630.0" cy="150.9" r="2.4"/><circle cx="630.4" cy="150.4" r="2.4"/><circle cx="630.9" cy="150.7" r="2.4"/><circle cx="631.5" cy="148.3" r="2.4"/><circle cx="632.2" cy="148.0" r="2.4"/><circle cx="632.8" cy="144.0" r="2.4"/><circle cx="633.5" cy="152.1" r="2.4"/><circle cx="634.1" cy="150.5" r="2.4"/><circle cx="634.7" cy="153.9" r="2.4"/><circle cx="635.0" cy="154.6" r="2.4"/><circle cx="635.6" cy="153.0" r="2.4"/><circle cx="636.4" cy="149.5" r="2.4"/><circle cx="637.0" cy="153.5" r="2.4"/><circle cx="637.4" cy="158.2" r="2.4"/><circle cx="638.1" cy="161.4" r="2.4"/><circle cx="638.4" cy="155.3" r="2.4"/><circle cx="639.1" cy="151.2" r="2.4"/><circle cx="639.9" cy="157.3" r="2.4"/><circle cx="640.4" cy="150.7" r="2.4"/><circle cx="640.9" cy="148.0" r="2.4"/><circle cx="641.6" cy="151.0" r="2.4"/><circle cx="641.9" cy="155.1" r="2.4"/><circle cx="642.5" cy="155.8" r="2.4"/><circle cx="643.3" cy="152.2" r="2.4"/><circle cx="643.9" cy="153.1" r="2.4"/><circle cx="644.3" cy="152.0" r="2.4"/><circle cx="645.0" cy="154.8" r="2.4"/><circle cx="645.3" cy="157.5" r="2.4"/><circle cx="646.1" cy="145.6" r="2.4"/><circle cx="646.7" cy="156.8" r="2.4"/><circle cx="647.2" cy="152.3" r="2.4"/><circle cx="647.9" cy="153.6" r="2.4"/><circle cx="648.3" cy="155.4" r="2.4"/><circle cx="648.9" cy="160.1" r="2.4"/><circle cx="649.6" cy="156.6" r="2.4"/><circle cx="649.9" cy="154.5" r="2.4"/><circle cx="650.4" cy="152.3" r="2.4"/><circle cx="651.0" cy="151.1" r="2.4"/><circle cx="651.9" cy="148.3" r="2.4"/><circle cx="652.5" cy="153.9" r="2.4"/><circle cx="653.1" cy="151.7" r="2.4"/><circle cx="653.6" cy="152.9" r="2.4"/><circle cx="654.0" cy="153.8" r="2.4"/><circle cx="654.7" cy="154.2" r="2.4"/><circle cx="655.2" cy="160.9" r="2.4"/><circle cx="655.8" cy="147.7" r="2.4"/><circle cx="656.6" cy="153.4" r="2.4"/><circle cx="657.1" cy="155.2" r="2.4"/><circle cx="657.4" cy="156.2" r="2.4"/><circle cx="658.2" cy="146.0" r="2.4"/><circle cx="658.5" cy="157.0" r="2.4"/><circle cx="659.3" cy="157.2" r="2.4"/><circle cx="659.9" cy="154.0" r="2.4"/><circle cx="660.6" cy="154.6" r="2.4"/><circle cx="661.0" cy="158.8" r="2.4"/><circle cx="661.6" cy="156.2" r="2.4"/><circle cx="662.2" cy="154.4" r="2.4"/><circle cx="662.5" cy="155.8" r="2.4"/><circle cx="663.3" cy="156.4" r="2.4"/><circle cx="663.9" cy="162.9" r="2.4"/><circle cx="664.3" cy="152.6" r="2.4"/><circle cx="664.8" cy="151.1" r="2.4"/><circle cx="665.5" cy="154.7" r="2.4"/><circle cx="666.1" cy="161.9" r="2.4"/><circle cx="666.8" cy="159.3" r="2.4"/><circle cx="667.2" cy="157.4" r="2.4"/><circle cx="667.8" cy="154.7" r="2.4"/><circle cx="668.4" cy="152.3" r="2.4"/><circle cx="668.9" cy="151.1" r="2.4"/><circle cx="669.4" cy="152.7" r="2.4"/><circle cx="670.0" cy="156.8" r="2.4"/><circle cx="670.7" cy="150.7" r="2.4"/><circle cx="671.3" cy="158.7" r="2.4"/><circle cx="672.0" cy="154.9" r="2.4"/><circle cx="672.3" cy="152.4" r="2.4"/><circle cx="672.9" cy="154.7" r="2.4"/><circle cx="673.4" cy="150.4" r="2.4"/><circle cx="674.0" cy="154.0" r="2.4"/><circle cx="674.8" cy="151.8" r="2.4"/><circle cx="675.3" cy="152.9" r="2.4"/><circle cx="676.0" cy="150.7" r="2.4"/><circle cx="676.5" cy="157.1" r="2.4"/><circle cx="676.9" cy="155.1" r="2.4"/><circle cx="677.6" cy="148.9" r="2.4"/><circle cx="678.0" cy="151.3" r="2.4"/><circle cx="678.8" cy="157.8" r="2.4"/><circle cx="679.3" cy="150.7" r="2.4"/><circle cx="679.7" cy="155.3" r="2.4"/><circle cx="680.3" cy="154.4" r="2.4"/><circle cx="681.0" cy="155.2" r="2.4"/><circle cx="681.8" cy="149.3" r="2.4"/><circle cx="682.1" cy="152.8" r="2.4"/><circle cx="682.8" cy="156.1" r="2.4"/><circle cx="683.3" cy="155.5" r="2.4"/><circle cx="684.0" cy="154.4" r="2.4"/><circle cx="684.3" cy="156.8" r="2.4"/><circle cx="685.2" cy="153.5" r="2.4"/><circle cx="685.7" cy="158.3" r="2.4"/><circle cx="686.1" cy="157.8" r="2.4"/><circle cx="686.6" cy="152.8" r="2.4"/></g><g fill="#0a5294" clip-path="url(#lc1r)"><circle cx="558.4" cy="156.8" r="2.4"/><circle cx="559.1" cy="155.4" r="2.4"/><circle cx="559.6" cy="155.5" r="2.4"/><circle cx="560.1" cy="154.3" r="2.4"/><circle cx="560.6" cy="152.3" r="2.4"/><circle cx="561.0" cy="150.3" r="2.4"/><circle cx="561.9" cy="157.2" r="2.4"/><circle cx="562.3" cy="152.9" r="2.4"/><circle cx="563.0" cy="155.2" r="2.4"/><circle cx="563.4" cy="152.8" r="2.4"/><circle cx="563.9" cy="154.4" r="2.4"/><circle cx="564.7" cy="157.0" r="2.4"/><circle cx="565.2" cy="151.9" r="2.4"/><circle cx="565.7" cy="157.4" r="2.4"/><circle cx="566.5" cy="158.0" r="2.4"/><circle cx="566.9" cy="149.3" r="2.4"/><circle cx="567.6" cy="160.9" r="2.4"/><circle cx="568.0" cy="154.6" r="2.4"/><circle cx="568.8" cy="153.0" r="2.4"/><circle cx="569.0" cy="157.6" r="2.4"/><circle cx="569.6" cy="155.7" r="2.4"/><circle cx="570.2" cy="152.7" r="2.4"/><circle cx="571.1" cy="157.9" r="2.4"/><circle cx="571.7" cy="150.5" r="2.4"/><circle cx="571.9" cy="151.8" r="2.4"/><circle cx="572.6" cy="161.8" r="2.4"/><circle cx="573.3" cy="151.6" r="2.4"/><circle cx="573.7" cy="158.2" r="2.4"/><circle cx="574.2" cy="154.6" r="2.4"/><circle cx="574.9" cy="148.0" r="2.4"/><circle cx="575.6" cy="160.6" r="2.4"/><circle cx="575.9" cy="151.5" r="2.4"/><circle cx="576.8" cy="156.3" r="2.4"/><circle cx="577.1" cy="150.3" r="2.4"/><circle cx="577.7" cy="148.9" r="2.4"/><circle cx="578.2" cy="164.0" r="2.4"/><circle cx="579.1" cy="154.5" r="2.4"/><circle cx="579.5" cy="148.8" r="2.4"/><circle cx="580.2" cy="154.6" r="2.4"/><circle cx="580.7" cy="159.8" r="2.4"/><circle cx="581.2" cy="150.2" r="2.4"/><circle cx="582.0" cy="160.9" r="2.4"/><circle cx="582.4" cy="156.6" r="2.4"/><circle cx="582.9" cy="156.7" r="2.4"/><circle cx="583.4" cy="155.8" r="2.4"/><circle cx="584.1" cy="152.9" r="2.4"/><circle cx="584.8" cy="156.4" r="2.4"/><circle cx="585.4" cy="153.8" r="2.4"/><circle cx="586.0" cy="157.6" r="2.4"/><circle cx="586.5" cy="155.7" r="2.4"/><circle cx="587.0" cy="155.0" r="2.4"/><circle cx="587.3" cy="152.0" r="2.4"/><circle cx="588.1" cy="155.9" r="2.4"/><circle cx="588.7" cy="157.0" r="2.4"/><circle cx="589.3" cy="157.4" r="2.4"/><circle cx="589.9" cy="152.2" r="2.4"/><circle cx="590.4" cy="157.0" r="2.4"/><circle cx="591.1" cy="152.2" r="2.4"/><circle cx="591.5" cy="154.0" r="2.4"/><circle cx="592.0" cy="152.6" r="2.4"/><circle cx="592.5" cy="155.0" r="2.4"/><circle cx="593.2" cy="159.7" r="2.4"/><circle cx="594.1" cy="154.1" r="2.4"/><circle cx="594.6" cy="154.3" r="2.4"/><circle cx="594.8" cy="154.2" r="2.4"/><circle cx="595.6" cy="152.4" r="2.4"/><circle cx="596.3" cy="155.6" r="2.4"/><circle cx="596.7" cy="157.1" r="2.4"/><circle cx="597.1" cy="155.1" r="2.4"/><circle cx="597.7" cy="150.7" r="2.4"/><circle cx="598.3" cy="153.8" r="2.4"/><circle cx="598.9" cy="153.0" r="2.4"/><circle cx="599.5" cy="155.0" r="2.4"/><circle cx="600.1" cy="157.5" r="2.4"/><circle cx="600.7" cy="151.6" r="2.4"/><circle cx="601.5" cy="146.2" r="2.4"/><circle cx="601.7" cy="152.8" r="2.4"/><circle cx="602.4" cy="146.1" r="2.4"/><circle cx="602.9" cy="154.4" r="2.4"/><circle cx="603.6" cy="154.8" r="2.4"/><circle cx="604.0" cy="147.3" r="2.4"/><circle cx="604.7" cy="151.1" r="2.4"/><circle cx="605.1" cy="157.6" r="2.4"/><circle cx="605.9" cy="154.2" r="2.4"/><circle cx="606.4" cy="156.3" r="2.4"/><circle cx="607.2" cy="150.2" r="2.4"/><circle cx="607.5" cy="149.2" r="2.4"/><circle cx="608.2" cy="148.9" r="2.4"/><circle cx="608.6" cy="148.9" r="2.4"/><circle cx="609.2" cy="147.9" r="2.4"/><circle cx="610.1" cy="151.4" r="2.4"/><circle cx="610.6" cy="149.4" r="2.4"/><circle cx="610.9" cy="143.6" r="2.4"/><circle cx="611.8" cy="148.5" r="2.4"/><circle cx="612.2" cy="150.5" r="2.4"/><circle cx="612.6" cy="150.9" r="2.4"/><circle cx="613.5" cy="152.6" r="2.4"/><circle cx="613.7" cy="153.4" r="2.4"/><circle cx="614.4" cy="151.8" r="2.4"/><circle cx="615.1" cy="153.8" r="2.4"/><circle cx="615.7" cy="149.5" r="2.4"/><circle cx="616.1" cy="149.9" r="2.4"/><circle cx="616.7" cy="147.8" r="2.4"/><circle cx="617.6" cy="155.5" r="2.4"/><circle cx="617.7" cy="150.8" r="2.4"/><circle cx="618.3" cy="149.1" r="2.4"/><circle cx="619.2" cy="150.1" r="2.4"/><circle cx="619.9" cy="157.5" r="2.4"/><circle cx="620.2" cy="151.0" r="2.4"/><circle cx="620.6" cy="157.4" r="2.4"/><circle cx="621.5" cy="151.0" r="2.4"/><circle cx="622.1" cy="151.5" r="2.4"/><circle cx="622.6" cy="157.1" r="2.4"/><circle cx="623.1" cy="158.4" r="2.4"/><circle cx="623.7" cy="153.1" r="2.4"/><circle cx="624.4" cy="157.2" r="2.4"/><circle cx="625.0" cy="152.8" r="2.4"/><circle cx="625.5" cy="158.0" r="2.4"/><circle cx="626.1" cy="154.7" r="2.4"/><circle cx="626.6" cy="154.2" r="2.4"/><circle cx="627.2" cy="151.4" r="2.4"/><circle cx="627.5" cy="160.6" r="2.4"/><circle cx="628.2" cy="152.5" r="2.4"/><circle cx="628.8" cy="156.5" r="2.4"/><circle cx="629.5" cy="161.1" r="2.4"/><circle cx="630.0" cy="156.8" r="2.4"/><circle cx="630.6" cy="152.1" r="2.4"/><circle cx="631.1" cy="154.2" r="2.4"/><circle cx="631.8" cy="154.7" r="2.4"/><circle cx="632.4" cy="154.5" r="2.4"/><circle cx="632.8" cy="153.8" r="2.4"/><circle cx="633.5" cy="152.9" r="2.4"/><circle cx="633.9" cy="160.6" r="2.4"/><circle cx="634.4" cy="147.5" r="2.4"/><circle cx="635.2" cy="147.9" r="2.4"/><circle cx="635.6" cy="157.3" r="2.4"/><circle cx="636.3" cy="161.8" r="2.4"/><circle cx="636.8" cy="149.6" r="2.4"/><circle cx="637.3" cy="155.5" r="2.4"/><circle cx="638.1" cy="158.5" r="2.4"/><circle cx="638.5" cy="154.5" r="2.4"/><circle cx="639.1" cy="157.8" r="2.4"/><circle cx="639.7" cy="152.6" r="2.4"/><circle cx="640.5" cy="152.5" r="2.4"/><circle cx="641.1" cy="153.5" r="2.4"/><circle cx="641.5" cy="157.7" r="2.4"/><circle cx="641.9" cy="157.4" r="2.4"/><circle cx="642.6" cy="154.0" r="2.4"/><circle cx="643.4" cy="152.6" r="2.4"/><circle cx="643.9" cy="154.3" r="2.4"/><circle cx="644.4" cy="154.5" r="2.4"/><circle cx="644.8" cy="159.1" r="2.4"/><circle cx="645.3" cy="154.3" r="2.4"/><circle cx="646.0" cy="160.5" r="2.4"/><circle cx="646.6" cy="156.5" r="2.4"/><circle cx="647.1" cy="157.7" r="2.4"/><circle cx="647.7" cy="156.9" r="2.4"/><circle cx="648.4" cy="154.5" r="2.4"/><circle cx="648.8" cy="153.9" r="2.4"/><circle cx="649.3" cy="158.1" r="2.4"/><circle cx="650.2" cy="154.2" r="2.4"/><circle cx="650.7" cy="154.4" r="2.4"/><circle cx="651.1" cy="163.9" r="2.4"/><circle cx="651.7" cy="154.2" r="2.4"/><circle cx="652.4" cy="152.9" r="2.4"/><circle cx="652.9" cy="149.5" r="2.4"/><circle cx="653.7" cy="149.2" r="2.4"/><circle cx="653.9" cy="153.3" r="2.4"/><circle cx="654.7" cy="154.4" r="2.4"/><circle cx="655.4" cy="154.0" r="2.4"/><circle cx="655.8" cy="154.2" r="2.4"/><circle cx="656.3" cy="154.0" r="2.4"/><circle cx="656.8" cy="154.4" r="2.4"/><circle cx="657.4" cy="155.5" r="2.4"/><circle cx="658.0" cy="150.6" r="2.4"/><circle cx="658.6" cy="152.8" r="2.4"/><circle cx="659.1" cy="148.0" r="2.4"/><circle cx="659.8" cy="157.1" r="2.4"/><circle cx="660.3" cy="153.6" r="2.4"/><circle cx="660.8" cy="152.6" r="2.4"/><circle cx="661.6" cy="150.3" r="2.4"/><circle cx="662.0" cy="151.4" r="2.4"/><circle cx="662.5" cy="148.3" r="2.4"/><circle cx="663.4" cy="153.1" r="2.4"/><circle cx="664.0" cy="155.6" r="2.4"/><circle cx="664.3" cy="151.9" r="2.4"/><circle cx="664.9" cy="153.7" r="2.4"/><circle cx="665.6" cy="159.6" r="2.4"/><circle cx="666.2" cy="152.4" r="2.4"/><circle cx="666.5" cy="152.9" r="2.4"/><circle cx="667.1" cy="149.4" r="2.4"/><circle cx="668.0" cy="153.6" r="2.4"/><circle cx="668.3" cy="156.5" r="2.4"/><circle cx="668.9" cy="156.5" r="2.4"/><circle cx="669.4" cy="153.3" r="2.4"/><circle cx="670.0" cy="153.4" r="2.4"/><circle cx="670.7" cy="151.7" r="2.4"/><circle cx="671.4" cy="156.7" r="2.4"/><circle cx="672.0" cy="158.1" r="2.4"/><circle cx="672.4" cy="156.5" r="2.4"/><circle cx="673.1" cy="153.3" r="2.4"/><circle cx="673.7" cy="150.8" r="2.4"/><circle cx="674.0" cy="156.7" r="2.4"/><circle cx="674.5" cy="152.5" r="2.4"/><circle cx="675.3" cy="160.7" r="2.4"/><circle cx="676.0" cy="149.6" r="2.4"/><circle cx="676.4" cy="156.6" r="2.4"/><circle cx="677.0" cy="156.3" r="2.4"/><circle cx="677.6" cy="151.9" r="2.4"/><circle cx="678.0" cy="153.1" r="2.4"/><circle cx="678.8" cy="153.0" r="2.4"/><circle cx="679.5" cy="154.8" r="2.4"/><circle cx="679.9" cy="156.1" r="2.4"/><circle cx="680.5" cy="153.6" r="2.4"/><circle cx="681.1" cy="153.4" r="2.4"/><circle cx="681.5" cy="155.6" r="2.4"/><circle cx="682.3" cy="155.9" r="2.4"/><circle cx="682.7" cy="158.0" r="2.4"/><circle cx="683.5" cy="152.7" r="2.4"/><circle cx="684.1" cy="151.7" r="2.4"/><circle cx="684.3" cy="158.4" r="2.4"/><circle cx="684.9" cy="163.3" r="2.4"/><circle cx="685.7" cy="156.4" r="2.4"/><circle cx="686.1" cy="159.4" r="2.4"/><circle cx="686.8" cy="148.1" r="2.4"/></g><path d="M426.5,222.50V357.5H553.8" stroke="#8a8a8a" stroke-width="1" fill="none"/><path d="M426.5,342.50h2.8" stroke="#8a8a8a" stroke-width="0.9"/><path d="M426.5,312.50h2.8" stroke="#8a8a8a" stroke-width="0.9"/><path d="M426.5,282.50h2.8" stroke="#8a8a8a" stroke-width="0.9"/><path d="M426.5,252.50h2.8" stroke="#8a8a8a" stroke-width="0.9"/><path d="M426.5,222.50h2.8" stroke="#8a8a8a" stroke-width="0.9"/><path d="M461.80,357.5v-3" stroke="#8a8a8a" stroke-width="0.9"/><path d="M496.90,357.5v-3" stroke="#8a8a8a" stroke-width="0.9"/><path d="M532.00,357.5v-3" stroke="#8a8a8a" stroke-width="0.9"/><path d="M558.5,222.50V357.5H685" stroke="#8a8a8a" stroke-width="1" fill="none"/><path d="M558.5,342.50h2.8" stroke="#8a8a8a" stroke-width="0.9"/><path d="M558.5,312.50h2.8" stroke="#8a8a8a" stroke-width="0.9"/><path d="M558.5,282.50h2.8" stroke="#8a8a8a" stroke-width="0.9"/><path d="M558.5,252.50h2.8" stroke="#8a8a8a" stroke-width="0.9"/><path d="M558.5,222.50h2.8" stroke="#8a8a8a" stroke-width="0.9"/><path d="M593.80,357.5v-3" stroke="#8a8a8a" stroke-width="0.9"/><path d="M628.90,357.5v-3" stroke="#8a8a8a" stroke-width="0.9"/><path d="M664.00,357.5v-3" stroke="#8a8a8a" stroke-width="0.9"/><text x="423.20" y="345.20" font-size="7.5" text-anchor="end" font-weight="normal" fill="#000" >0</text><text x="423.20" y="315.20" font-size="7.5" text-anchor="end" font-weight="normal" fill="#000" >200</text><text x="423.20" y="285.20" font-size="7.5" text-anchor="end" font-weight="normal" fill="#000" >400</text><text x="423.20" y="255.20" font-size="7.5" text-anchor="end" font-weight="normal" fill="#000" >600</text><text x="423.20" y="225.20" font-size="7.5" text-anchor="end" font-weight="normal" fill="#000" >800</text><text x="426.70" y="367.30" font-size="7.5" text-anchor="middle" font-weight="normal" fill="#000" >1.100</text><text x="461.80" y="367.30" font-size="7.5" text-anchor="middle" font-weight="normal" fill="#000" >1.105</text><text x="496.90" y="367.30" font-size="7.5" text-anchor="middle" font-weight="normal" fill="#000" >1.110</text><text x="532.00" y="367.30" font-size="7.5" text-anchor="middle" font-weight="normal" fill="#000" >1.115</text><text x="558.30" y="367.30" font-size="7.5" text-anchor="middle" font-weight="normal" fill="#000" >1.100</text><text x="593.40" y="367.30" font-size="7.5" text-anchor="middle" font-weight="normal" fill="#000" >1.105</text><text x="628.50" y="367.30" font-size="7.5" text-anchor="middle" font-weight="normal" fill="#000" >1.110</text><text x="663.60" y="367.30" font-size="7.5" text-anchor="middle" font-weight="normal" fill="#000" >1.115</text><text x="556.50" y="379.20" font-size="7.2" text-anchor="middle" font-weight="normal" fill="#000" >Energy (eV)</text><text transform="translate(402.8,290.00) rotate(-90)" font-size="7.5" text-anchor="middle" fill="#000">PL (counts)</text><text x="555.00" y="218.10" font-size="7.5" text-anchor="middle" font-weight="normal" fill="#000" ><tspan font-style="italic" font-family="Liberation Serif">ν</tspan> = −2/3</text><text x="433.00" y="236.40" font-size="7.7" text-anchor="start" font-weight="normal" fill="#000" >Before pump</text><text x="564.80" y="236.40" font-size="7.7" text-anchor="start" font-weight="normal" fill="#000" >Pump σ−</text><circle cx="507.4" cy="236.50" r="1.8" fill="#b8203a"/><circle cx="507.4" cy="247.00" r="1.8" fill="#0a5294"/><text x="513.00" y="238.70" font-size="7.5" text-anchor="start" font-weight="normal" fill="#000" >Collect σ+</text><text x="513.00" y="249.20" font-size="7.5" text-anchor="start" font-weight="normal" fill="#000" >Collect σ−</text><clipPath id="lc2"><rect x="426.7" y="0" width="127.1" height="381"/></clipPath><clipPath id="lc2r"><rect x="558.3" y="0" width="130" height="381"/></clipPath><g fill="#b8203a" clip-path="url(#lc2)"><circle cx="426.9" cy="341.5" r="2.4"/><circle cx="427.1" cy="342.8" r="2.4"/><circle cx="428.0" cy="342.9" r="2.4"/><circle cx="428.3" cy="346.9" r="2.4"/><circle cx="429.0" cy="345.6" r="2.4"/><circle cx="429.3" cy="345.0" r="2.4"/><circle cx="430.0" cy="346.3" r="2.4"/><circle cx="430.8" cy="339.5" r="2.4"/><circle cx="431.4" cy="345.6" r="2.4"/><circle cx="431.6" cy="343.4" r="2.4"/><circle cx="432.1" cy="339.2" r="2.4"/><circle cx="432.8" cy="341.9" r="2.4"/><circle cx="433.3" cy="339.7" r="2.4"/><circle cx="434.0" cy="344.8" r="2.4"/><circle cx="434.4" cy="339.9" r="2.4"/><circle cx="434.9" cy="342.1" r="2.4"/><circle cx="435.6" cy="338.0" r="2.4"/><circle cx="436.0" cy="342.5" r="2.4"/><circle cx="436.9" cy="341.1" r="2.4"/><circle cx="437.5" cy="347.2" r="2.4"/><circle cx="438.0" cy="341.8" r="2.4"/><circle cx="438.6" cy="345.2" r="2.4"/><circle cx="439.2" cy="339.8" r="2.4"/><circle cx="439.6" cy="338.2" r="2.4"/><circle cx="440.1" cy="345.9" r="2.4"/><circle cx="440.8" cy="343.2" r="2.4"/><circle cx="441.2" cy="341.1" r="2.4"/><circle cx="441.9" cy="344.9" r="2.4"/><circle cx="442.5" cy="346.3" r="2.4"/><circle cx="443.1" cy="341.6" r="2.4"/><circle cx="443.5" cy="344.6" r="2.4"/><circle cx="443.9" cy="342.3" r="2.4"/><circle cx="444.6" cy="339.2" r="2.4"/><circle cx="445.0" cy="336.8" r="2.4"/><circle cx="445.8" cy="345.3" r="2.4"/><circle cx="446.3" cy="335.5" r="2.4"/><circle cx="446.8" cy="346.8" r="2.4"/><circle cx="447.4" cy="343.0" r="2.4"/><circle cx="447.8" cy="341.6" r="2.4"/><circle cx="448.6" cy="339.0" r="2.4"/><circle cx="449.1" cy="337.6" r="2.4"/><circle cx="449.7" cy="340.0" r="2.4"/><circle cx="450.3" cy="340.7" r="2.4"/><circle cx="450.5" cy="337.9" r="2.4"/><circle cx="451.3" cy="342.8" r="2.4"/><circle cx="452.0" cy="340.4" r="2.4"/><circle cx="452.2" cy="348.3" r="2.4"/><circle cx="452.8" cy="343.3" r="2.4"/><circle cx="453.4" cy="340.2" r="2.4"/><circle cx="454.1" cy="344.6" r="2.4"/><circle cx="454.4" cy="343.7" r="2.4"/><circle cx="455.2" cy="341.1" r="2.4"/><circle cx="455.5" cy="341.8" r="2.4"/><circle cx="456.4" cy="342.7" r="2.4"/><circle cx="456.6" cy="342.7" r="2.4"/><circle cx="457.2" cy="337.0" r="2.4"/><circle cx="457.8" cy="343.6" r="2.4"/><circle cx="458.3" cy="345.3" r="2.4"/><circle cx="459.3" cy="342.0" r="2.4"/><circle cx="459.5" cy="341.8" r="2.4"/><circle cx="460.2" cy="342.5" r="2.4"/><circle cx="460.7" cy="343.9" r="2.4"/><circle cx="461.1" cy="347.3" r="2.4"/><circle cx="461.9" cy="340.8" r="2.4"/><circle cx="462.6" cy="342.2" r="2.4"/><circle cx="463.0" cy="348.4" r="2.4"/><circle cx="463.5" cy="341.7" r="2.4"/><circle cx="464.0" cy="338.1" r="2.4"/><circle cx="464.5" cy="348.2" r="2.4"/><circle cx="465.0" cy="340.4" r="2.4"/><circle cx="465.8" cy="345.2" r="2.4"/><circle cx="466.2" cy="340.1" r="2.4"/><circle cx="467.1" cy="342.5" r="2.4"/><circle cx="467.4" cy="338.2" r="2.4"/><circle cx="467.8" cy="343.8" r="2.4"/><circle cx="468.4" cy="342.8" r="2.4"/><circle cx="468.9" cy="341.4" r="2.4"/><circle cx="469.7" cy="340.9" r="2.4"/><circle cx="470.2" cy="335.1" r="2.4"/><circle cx="471.0" cy="342.7" r="2.4"/><circle cx="471.2" cy="344.1" r="2.4"/><circle cx="471.9" cy="341.0" r="2.4"/><circle cx="472.5" cy="340.3" r="2.4"/><circle cx="472.9" cy="346.2" r="2.4"/><circle cx="473.5" cy="341.9" r="2.4"/><circle cx="473.9" cy="341.6" r="2.4"/><circle cx="474.6" cy="337.7" r="2.4"/><circle cx="475.1" cy="338.2" r="2.4"/><circle cx="475.6" cy="340.3" r="2.4"/><circle cx="476.2" cy="339.1" r="2.4"/><circle cx="476.9" cy="343.4" r="2.4"/><circle cx="477.5" cy="340.2" r="2.4"/><circle cx="477.9" cy="334.2" r="2.4"/><circle cx="478.7" cy="344.7" r="2.4"/><circle cx="479.1" cy="344.3" r="2.4"/><circle cx="479.5" cy="340.5" r="2.4"/><circle cx="480.2" cy="341.9" r="2.4"/><circle cx="480.6" cy="340.2" r="2.4"/><circle cx="481.5" cy="342.2" r="2.4"/><circle cx="482.1" cy="336.9" r="2.4"/><circle cx="482.5" cy="341.6" r="2.4"/><circle cx="483.0" cy="331.1" r="2.4"/><circle cx="483.4" cy="339.9" r="2.4"/><circle cx="484.1" cy="340.5" r="2.4"/><circle cx="484.9" cy="339.3" r="2.4"/><circle cx="485.3" cy="339.5" r="2.4"/><circle cx="485.8" cy="341.0" r="2.4"/><circle cx="486.4" cy="338.7" r="2.4"/><circle cx="486.8" cy="339.4" r="2.4"/><circle cx="487.7" cy="335.9" r="2.4"/><circle cx="487.9" cy="338.7" r="2.4"/><circle cx="488.7" cy="340.7" r="2.4"/><circle cx="489.1" cy="343.6" r="2.4"/><circle cx="489.7" cy="337.6" r="2.4"/><circle cx="490.1" cy="337.9" r="2.4"/><circle cx="491.0" cy="338.0" r="2.4"/><circle cx="491.5" cy="334.5" r="2.4"/><circle cx="491.8" cy="340.2" r="2.4"/><circle cx="492.6" cy="338.3" r="2.4"/><circle cx="493.1" cy="344.0" r="2.4"/><circle cx="493.6" cy="344.5" r="2.4"/><circle cx="494.1" cy="338.0" r="2.4"/><circle cx="494.8" cy="347.0" r="2.4"/><circle cx="495.4" cy="338.7" r="2.4"/><circle cx="496.1" cy="338.6" r="2.4"/><circle cx="496.3" cy="342.1" r="2.4"/><circle cx="497.0" cy="340.3" r="2.4"/><circle cx="497.6" cy="337.1" r="2.4"/><circle cx="498.3" cy="345.2" r="2.4"/><circle cx="498.5" cy="343.3" r="2.4"/><circle cx="499.2" cy="339.0" r="2.4"/><circle cx="499.7" cy="340.8" r="2.4"/><circle cx="500.2" cy="335.4" r="2.4"/><circle cx="501.1" cy="337.8" r="2.4"/><circle cx="501.5" cy="339.5" r="2.4"/><circle cx="501.9" cy="339.5" r="2.4"/><circle cx="502.6" cy="342.8" r="2.4"/><circle cx="503.1" cy="344.5" r="2.4"/><circle cx="503.5" cy="348.7" r="2.4"/><circle cx="504.3" cy="343.6" r="2.4"/><circle cx="504.6" cy="346.5" r="2.4"/><circle cx="505.3" cy="342.3" r="2.4"/><circle cx="506.1" cy="346.5" r="2.4"/><circle cx="506.4" cy="340.9" r="2.4"/><circle cx="507.2" cy="341.3" r="2.4"/><circle cx="507.4" cy="345.9" r="2.4"/><circle cx="508.1" cy="338.2" r="2.4"/><circle cx="508.9" cy="341.5" r="2.4"/><circle cx="509.1" cy="345.7" r="2.4"/><circle cx="509.8" cy="342.5" r="2.4"/><circle cx="510.5" cy="338.0" r="2.4"/><circle cx="510.9" cy="344.2" r="2.4"/><circle cx="511.7" cy="344.8" r="2.4"/><circle cx="512.1" cy="338.0" r="2.4"/><circle cx="512.7" cy="341.1" r="2.4"/><circle cx="513.2" cy="344.1" r="2.4"/><circle cx="513.7" cy="346.5" r="2.4"/><circle cx="514.3" cy="349.6" r="2.4"/><circle cx="514.6" cy="347.1" r="2.4"/><circle cx="515.6" cy="341.4" r="2.4"/><circle cx="516.0" cy="342.2" r="2.4"/><circle cx="516.7" cy="343.0" r="2.4"/><circle cx="517.2" cy="347.6" r="2.4"/><circle cx="517.8" cy="346.5" r="2.4"/><circle cx="518.0" cy="340.4" r="2.4"/><circle cx="518.6" cy="347.2" r="2.4"/><circle cx="519.4" cy="344.2" r="2.4"/><circle cx="520.0" cy="343.5" r="2.4"/><circle cx="520.3" cy="344.9" r="2.4"/><circle cx="520.9" cy="344.6" r="2.4"/><circle cx="521.6" cy="344.5" r="2.4"/><circle cx="522.3" cy="342.1" r="2.4"/><circle cx="522.5" cy="339.0" r="2.4"/><circle cx="523.3" cy="342.4" r="2.4"/><circle cx="523.8" cy="342.4" r="2.4"/><circle cx="524.4" cy="346.0" r="2.4"/><circle cx="524.8" cy="342.9" r="2.4"/><circle cx="525.2" cy="339.0" r="2.4"/><circle cx="525.8" cy="342.5" r="2.4"/><circle cx="526.7" cy="344.4" r="2.4"/><circle cx="527.2" cy="346.2" r="2.4"/><circle cx="527.8" cy="340.0" r="2.4"/><circle cx="528.4" cy="341.3" r="2.4"/><circle cx="528.7" cy="341.2" r="2.4"/><circle cx="529.3" cy="342.6" r="2.4"/><circle cx="529.9" cy="342.1" r="2.4"/><circle cx="530.7" cy="345.0" r="2.4"/><circle cx="531.0" cy="339.7" r="2.4"/><circle cx="531.5" cy="340.7" r="2.4"/><circle cx="532.2" cy="344.4" r="2.4"/><circle cx="532.7" cy="349.0" r="2.4"/><circle cx="533.1" cy="344.1" r="2.4"/><circle cx="533.9" cy="343.9" r="2.4"/><circle cx="534.5" cy="338.4" r="2.4"/><circle cx="535.0" cy="347.0" r="2.4"/><circle cx="535.3" cy="338.9" r="2.4"/><circle cx="536.1" cy="345.4" r="2.4"/><circle cx="536.7" cy="340.2" r="2.4"/><circle cx="537.3" cy="344.3" r="2.4"/><circle cx="537.6" cy="344.4" r="2.4"/><circle cx="538.2" cy="342.2" r="2.4"/><circle cx="539.0" cy="340.1" r="2.4"/><circle cx="539.2" cy="341.3" r="2.4"/><circle cx="539.9" cy="345.2" r="2.4"/><circle cx="540.4" cy="339.6" r="2.4"/><circle cx="540.9" cy="340.9" r="2.4"/><circle cx="541.6" cy="344.2" r="2.4"/><circle cx="542.4" cy="336.4" r="2.4"/><circle cx="542.7" cy="346.9" r="2.4"/><circle cx="543.2" cy="347.8" r="2.4"/><circle cx="543.7" cy="342.4" r="2.4"/><circle cx="544.5" cy="340.6" r="2.4"/><circle cx="544.9" cy="345.8" r="2.4"/><circle cx="545.4" cy="338.3" r="2.4"/><circle cx="546.2" cy="344.5" r="2.4"/><circle cx="546.8" cy="344.7" r="2.4"/><circle cx="547.1" cy="337.6" r="2.4"/><circle cx="547.8" cy="347.2" r="2.4"/><circle cx="548.4" cy="337.8" r="2.4"/><circle cx="549.0" cy="344.1" r="2.4"/><circle cx="549.6" cy="337.9" r="2.4"/><circle cx="550.2" cy="344.5" r="2.4"/><circle cx="550.5" cy="345.7" r="2.4"/><circle cx="551.0" cy="345.6" r="2.4"/><circle cx="551.6" cy="339.1" r="2.4"/></g><g fill="#0a5294" clip-path="url(#lc2)"><circle cx="426.6" cy="334.8" r="2.4"/><circle cx="427.2" cy="340.5" r="2.4"/><circle cx="428.0" cy="343.5" r="2.4"/><circle cx="428.2" cy="339.1" r="2.4"/><circle cx="428.9" cy="341.6" r="2.4"/><circle cx="429.7" cy="338.0" r="2.4"/><circle cx="430.0" cy="345.9" r="2.4"/><circle cx="430.6" cy="341.6" r="2.4"/><circle cx="431.1" cy="335.9" r="2.4"/><circle cx="431.6" cy="343.3" r="2.4"/><circle cx="432.2" cy="343.5" r="2.4"/><circle cx="433.0" cy="340.6" r="2.4"/><circle cx="433.3" cy="341.1" r="2.4"/><circle cx="433.8" cy="344.3" r="2.4"/><circle cx="434.4" cy="340.9" r="2.4"/><circle cx="435.0" cy="341.8" r="2.4"/><circle cx="435.6" cy="337.5" r="2.4"/><circle cx="436.1" cy="341.9" r="2.4"/><circle cx="436.6" cy="343.2" r="2.4"/><circle cx="437.4" cy="347.2" r="2.4"/><circle cx="437.7" cy="339.6" r="2.4"/><circle cx="438.4" cy="340.3" r="2.4"/><circle cx="439.1" cy="344.5" r="2.4"/><circle cx="439.6" cy="350.9" r="2.4"/><circle cx="440.0" cy="335.0" r="2.4"/><circle cx="440.6" cy="344.1" r="2.4"/><circle cx="441.3" cy="343.9" r="2.4"/><circle cx="441.8" cy="345.4" r="2.4"/><circle cx="442.5" cy="344.1" r="2.4"/><circle cx="443.1" cy="339.9" r="2.4"/><circle cx="443.4" cy="345.0" r="2.4"/><circle cx="444.0" cy="340.4" r="2.4"/><circle cx="444.8" cy="341.4" r="2.4"/><circle cx="445.0" cy="337.3" r="2.4"/><circle cx="445.8" cy="343.7" r="2.4"/><circle cx="446.0" cy="343.9" r="2.4"/><circle cx="446.6" cy="336.3" r="2.4"/><circle cx="447.2" cy="343.0" r="2.4"/><circle cx="447.7" cy="340.1" r="2.4"/><circle cx="448.5" cy="334.4" r="2.4"/><circle cx="449.1" cy="336.9" r="2.4"/><circle cx="449.4" cy="339.8" r="2.4"/><circle cx="450.1" cy="343.2" r="2.4"/><circle cx="450.7" cy="339.2" r="2.4"/><circle cx="451.1" cy="338.7" r="2.4"/><circle cx="451.7" cy="336.3" r="2.4"/><circle cx="452.4" cy="344.6" r="2.4"/><circle cx="453.0" cy="340.3" r="2.4"/><circle cx="453.5" cy="342.8" r="2.4"/><circle cx="453.9" cy="340.4" r="2.4"/><circle cx="454.5" cy="340.5" r="2.4"/><circle cx="455.0" cy="340.8" r="2.4"/><circle cx="455.8" cy="338.3" r="2.4"/><circle cx="456.4" cy="337.1" r="2.4"/><circle cx="456.8" cy="344.4" r="2.4"/><circle cx="457.6" cy="340.5" r="2.4"/><circle cx="458.1" cy="340.0" r="2.4"/><circle cx="458.6" cy="340.5" r="2.4"/><circle cx="459.0" cy="338.1" r="2.4"/><circle cx="459.6" cy="344.2" r="2.4"/><circle cx="460.3" cy="339.7" r="2.4"/><circle cx="460.9" cy="344.5" r="2.4"/><circle cx="461.2" cy="342.5" r="2.4"/><circle cx="462.0" cy="338.6" r="2.4"/><circle cx="462.5" cy="341.1" r="2.4"/><circle cx="463.0" cy="341.3" r="2.4"/><circle cx="463.5" cy="341.5" r="2.4"/><circle cx="463.9" cy="339.3" r="2.4"/><circle cx="464.7" cy="336.6" r="2.4"/><circle cx="465.2" cy="340.9" r="2.4"/><circle cx="465.7" cy="345.7" r="2.4"/><circle cx="466.1" cy="339.7" r="2.4"/><circle cx="467.0" cy="346.5" r="2.4"/><circle cx="467.5" cy="338.2" r="2.4"/><circle cx="467.8" cy="339.7" r="2.4"/><circle cx="468.6" cy="342.1" r="2.4"/><circle cx="469.3" cy="340.5" r="2.4"/><circle cx="469.9" cy="336.9" r="2.4"/><circle cx="470.1" cy="342.0" r="2.4"/><circle cx="470.6" cy="337.4" r="2.4"/><circle cx="471.2" cy="344.1" r="2.4"/><circle cx="472.1" cy="342.3" r="2.4"/><circle cx="472.4" cy="340.6" r="2.4"/><circle cx="473.1" cy="343.5" r="2.4"/><circle cx="473.4" cy="337.4" r="2.4"/><circle cx="474.2" cy="339.4" r="2.4"/><circle cx="474.6" cy="331.0" r="2.4"/><circle cx="475.2" cy="341.0" r="2.4"/><circle cx="475.8" cy="338.1" r="2.4"/><circle cx="476.5" cy="334.9" r="2.4"/><circle cx="477.0" cy="330.7" r="2.4"/><circle cx="477.6" cy="338.8" r="2.4"/><circle cx="478.0" cy="333.6" r="2.4"/><circle cx="478.6" cy="333.7" r="2.4"/><circle cx="479.1" cy="330.3" r="2.4"/><circle cx="479.6" cy="335.6" r="2.4"/><circle cx="480.2" cy="328.8" r="2.4"/><circle cx="480.7" cy="333.2" r="2.4"/><circle cx="481.3" cy="329.8" r="2.4"/><circle cx="482.0" cy="326.2" r="2.4"/><circle cx="482.6" cy="325.1" r="2.4"/><circle cx="483.0" cy="315.3" r="2.4"/><circle cx="483.5" cy="307.3" r="2.4"/><circle cx="484.0" cy="308.7" r="2.4"/><circle cx="484.6" cy="306.5" r="2.4"/><circle cx="485.2" cy="300.3" r="2.4"/><circle cx="485.8" cy="289.5" r="2.4"/><circle cx="486.4" cy="294.5" r="2.4"/><circle cx="486.7" cy="282.1" r="2.4"/><circle cx="487.5" cy="275.7" r="2.4"/><circle cx="488.1" cy="269.6" r="2.4"/><circle cx="488.6" cy="262.3" r="2.4"/><circle cx="489.4" cy="257.0" r="2.4"/><circle cx="489.8" cy="260.7" r="2.4"/><circle cx="490.5" cy="249.4" r="2.4"/><circle cx="490.7" cy="250.7" r="2.4"/><circle cx="491.6" cy="235.7" r="2.4"/><circle cx="491.8" cy="245.0" r="2.4"/><circle cx="492.6" cy="248.8" r="2.4"/><circle cx="493.2" cy="246.6" r="2.4"/><circle cx="493.5" cy="246.8" r="2.4"/><circle cx="494.0" cy="252.0" r="2.4"/><circle cx="494.8" cy="262.4" r="2.4"/><circle cx="495.3" cy="275.4" r="2.4"/><circle cx="495.8" cy="272.2" r="2.4"/><circle cx="496.4" cy="286.2" r="2.4"/><circle cx="496.9" cy="289.4" r="2.4"/><circle cx="497.6" cy="299.7" r="2.4"/><circle cx="498.3" cy="310.3" r="2.4"/><circle cx="498.7" cy="308.7" r="2.4"/><circle cx="499.2" cy="316.0" r="2.4"/><circle cx="499.8" cy="319.3" r="2.4"/><circle cx="500.3" cy="323.8" r="2.4"/><circle cx="501.0" cy="334.1" r="2.4"/><circle cx="501.5" cy="334.2" r="2.4"/><circle cx="501.9" cy="329.2" r="2.4"/><circle cx="502.4" cy="333.8" r="2.4"/><circle cx="503.0" cy="337.4" r="2.4"/><circle cx="503.7" cy="333.1" r="2.4"/><circle cx="504.3" cy="336.1" r="2.4"/><circle cx="504.8" cy="338.6" r="2.4"/><circle cx="505.2" cy="340.1" r="2.4"/><circle cx="505.8" cy="341.9" r="2.4"/><circle cx="506.4" cy="341.1" r="2.4"/><circle cx="507.2" cy="342.6" r="2.4"/><circle cx="507.5" cy="343.6" r="2.4"/><circle cx="508.2" cy="333.5" r="2.4"/><circle cx="508.5" cy="339.3" r="2.4"/><circle cx="509.4" cy="343.3" r="2.4"/><circle cx="509.9" cy="337.9" r="2.4"/><circle cx="510.4" cy="347.0" r="2.4"/><circle cx="511.1" cy="337.6" r="2.4"/><circle cx="511.6" cy="340.2" r="2.4"/><circle cx="511.8" cy="346.5" r="2.4"/><circle cx="512.7" cy="351.8" r="2.4"/><circle cx="513.3" cy="337.3" r="2.4"/><circle cx="513.8" cy="339.1" r="2.4"/><circle cx="514.3" cy="346.2" r="2.4"/><circle cx="514.7" cy="338.3" r="2.4"/><circle cx="515.2" cy="348.4" r="2.4"/><circle cx="516.1" cy="346.0" r="2.4"/><circle cx="516.6" cy="343.3" r="2.4"/><circle cx="516.9" cy="334.5" r="2.4"/><circle cx="517.5" cy="339.7" r="2.4"/><circle cx="518.1" cy="348.3" r="2.4"/><circle cx="518.9" cy="338.1" r="2.4"/><circle cx="519.1" cy="338.7" r="2.4"/><circle cx="519.7" cy="341.4" r="2.4"/><circle cx="520.4" cy="341.3" r="2.4"/><circle cx="521.0" cy="342.6" r="2.4"/><circle cx="521.3" cy="337.0" r="2.4"/><circle cx="522.1" cy="345.0" r="2.4"/><circle cx="522.8" cy="342.3" r="2.4"/><circle cx="523.0" cy="345.0" r="2.4"/><circle cx="523.7" cy="340.2" r="2.4"/><circle cx="524.5" cy="345.4" r="2.4"/><circle cx="524.9" cy="343.6" r="2.4"/><circle cx="525.4" cy="336.2" r="2.4"/><circle cx="526.1" cy="343.7" r="2.4"/><circle cx="526.4" cy="343.3" r="2.4"/><circle cx="527.0" cy="342.9" r="2.4"/><circle cx="527.5" cy="344.5" r="2.4"/><circle cx="528.3" cy="350.7" r="2.4"/><circle cx="528.8" cy="342.0" r="2.4"/><circle cx="529.3" cy="338.4" r="2.4"/><circle cx="529.9" cy="342.3" r="2.4"/><circle cx="530.6" cy="339.7" r="2.4"/><circle cx="531.2" cy="340.0" r="2.4"/><circle cx="531.4" cy="346.2" r="2.4"/><circle cx="532.0" cy="337.3" r="2.4"/><circle cx="532.7" cy="349.5" r="2.4"/><circle cx="533.3" cy="343.0" r="2.4"/><circle cx="533.9" cy="344.4" r="2.4"/><circle cx="534.3" cy="340.0" r="2.4"/><circle cx="535.0" cy="345.1" r="2.4"/><circle cx="535.5" cy="345.7" r="2.4"/><circle cx="536.2" cy="342.9" r="2.4"/><circle cx="536.7" cy="345.6" r="2.4"/><circle cx="537.3" cy="340.3" r="2.4"/><circle cx="537.8" cy="346.9" r="2.4"/><circle cx="538.1" cy="349.0" r="2.4"/><circle cx="538.9" cy="344.8" r="2.4"/><circle cx="539.6" cy="344.7" r="2.4"/><circle cx="540.1" cy="345.7" r="2.4"/><circle cx="540.6" cy="339.3" r="2.4"/><circle cx="541.1" cy="346.0" r="2.4"/><circle cx="541.6" cy="337.7" r="2.4"/><circle cx="542.0" cy="344.7" r="2.4"/><circle cx="542.7" cy="346.3" r="2.4"/><circle cx="543.3" cy="336.2" r="2.4"/><circle cx="543.8" cy="342.7" r="2.4"/><circle cx="544.6" cy="345.3" r="2.4"/><circle cx="545.0" cy="343.7" r="2.4"/><circle cx="545.6" cy="338.3" r="2.4"/><circle cx="546.1" cy="345.2" r="2.4"/><circle cx="546.6" cy="338.7" r="2.4"/><circle cx="547.0" cy="341.4" r="2.4"/><circle cx="547.9" cy="345.2" r="2.4"/><circle cx="548.4" cy="338.9" r="2.4"/><circle cx="548.7" cy="340.8" r="2.4"/><circle cx="549.2" cy="344.8" r="2.4"/><circle cx="550.0" cy="348.3" r="2.4"/><circle cx="550.5" cy="338.0" r="2.4"/><circle cx="550.9" cy="341.5" r="2.4"/><circle cx="551.7" cy="342.2" r="2.4"/></g><g fill="#b8203a" clip-path="url(#lc2r)"><circle cx="558.4" cy="339.4" r="2.4"/><circle cx="558.9" cy="341.2" r="2.4"/><circle cx="559.6" cy="335.5" r="2.4"/><circle cx="560.1" cy="343.4" r="2.4"/><circle cx="560.6" cy="341.4" r="2.4"/><circle cx="561.0" cy="337.7" r="2.4"/><circle cx="561.7" cy="340.1" r="2.4"/><circle cx="562.4" cy="345.9" r="2.4"/><circle cx="562.9" cy="342.8" r="2.4"/><circle cx="563.5" cy="338.3" r="2.4"/><circle cx="563.9" cy="336.9" r="2.4"/><circle cx="564.5" cy="349.8" r="2.4"/><circle cx="565.1" cy="340.1" r="2.4"/><circle cx="565.6" cy="347.0" r="2.4"/><circle cx="566.4" cy="341.6" r="2.4"/><circle cx="566.9" cy="335.5" r="2.4"/><circle cx="567.5" cy="340.3" r="2.4"/><circle cx="568.0" cy="339.2" r="2.4"/><circle cx="568.6" cy="341.1" r="2.4"/><circle cx="569.3" cy="340.0" r="2.4"/><circle cx="569.9" cy="339.5" r="2.4"/><circle cx="570.5" cy="345.8" r="2.4"/><circle cx="570.8" cy="340.7" r="2.4"/><circle cx="571.3" cy="337.0" r="2.4"/><circle cx="571.9" cy="341.6" r="2.4"/><circle cx="572.5" cy="344.1" r="2.4"/><circle cx="573.2" cy="341.7" r="2.4"/><circle cx="573.9" cy="342.4" r="2.4"/><circle cx="574.3" cy="345.3" r="2.4"/><circle cx="574.8" cy="343.5" r="2.4"/><circle cx="575.7" cy="339.2" r="2.4"/><circle cx="576.2" cy="336.6" r="2.4"/><circle cx="576.6" cy="340.7" r="2.4"/><circle cx="577.1" cy="342.2" r="2.4"/><circle cx="577.8" cy="336.5" r="2.4"/><circle cx="578.4" cy="339.1" r="2.4"/><circle cx="579.1" cy="342.0" r="2.4"/><circle cx="579.7" cy="341.0" r="2.4"/><circle cx="580.0" cy="343.3" r="2.4"/><circle cx="580.7" cy="340.9" r="2.4"/><circle cx="581.2" cy="341.4" r="2.4"/><circle cx="581.7" cy="340.8" r="2.4"/><circle cx="582.5" cy="340.3" r="2.4"/><circle cx="583.0" cy="339.7" r="2.4"/><circle cx="583.6" cy="340.1" r="2.4"/><circle cx="584.3" cy="346.1" r="2.4"/><circle cx="584.5" cy="340.9" r="2.4"/><circle cx="585.1" cy="342.0" r="2.4"/><circle cx="585.7" cy="341.0" r="2.4"/><circle cx="586.6" cy="345.4" r="2.4"/><circle cx="587.2" cy="337.1" r="2.4"/><circle cx="587.5" cy="342.8" r="2.4"/><circle cx="588.3" cy="341.7" r="2.4"/><circle cx="588.7" cy="343.6" r="2.4"/><circle cx="589.1" cy="336.7" r="2.4"/><circle cx="589.9" cy="340.8" r="2.4"/><circle cx="590.6" cy="341.2" r="2.4"/><circle cx="591.1" cy="343.0" r="2.4"/><circle cx="591.8" cy="342.9" r="2.4"/><circle cx="592.1" cy="344.6" r="2.4"/><circle cx="592.5" cy="347.1" r="2.4"/><circle cx="593.1" cy="347.1" r="2.4"/><circle cx="594.0" cy="338.5" r="2.4"/><circle cx="594.6" cy="342.8" r="2.4"/><circle cx="594.9" cy="342.3" r="2.4"/><circle cx="595.7" cy="336.8" r="2.4"/><circle cx="596.2" cy="334.3" r="2.4"/><circle cx="596.8" cy="336.7" r="2.4"/><circle cx="597.4" cy="340.2" r="2.4"/><circle cx="597.7" cy="337.6" r="2.4"/><circle cx="598.3" cy="343.6" r="2.4"/><circle cx="599.1" cy="339.1" r="2.4"/><circle cx="599.7" cy="344.1" r="2.4"/><circle cx="600.2" cy="333.7" r="2.4"/><circle cx="600.7" cy="336.8" r="2.4"/><circle cx="601.4" cy="332.4" r="2.4"/><circle cx="601.7" cy="341.2" r="2.4"/><circle cx="602.4" cy="342.7" r="2.4"/><circle cx="603.1" cy="339.1" r="2.4"/><circle cx="603.6" cy="336.8" r="2.4"/><circle cx="604.4" cy="333.8" r="2.4"/><circle cx="604.8" cy="335.8" r="2.4"/><circle cx="605.2" cy="341.3" r="2.4"/><circle cx="606.0" cy="342.4" r="2.4"/><circle cx="606.5" cy="339.7" r="2.4"/><circle cx="606.9" cy="334.4" r="2.4"/><circle cx="607.6" cy="338.8" r="2.4"/><circle cx="608.1" cy="336.2" r="2.4"/><circle cx="608.7" cy="339.8" r="2.4"/><circle cx="609.4" cy="332.9" r="2.4"/><circle cx="609.8" cy="337.8" r="2.4"/><circle cx="610.4" cy="335.1" r="2.4"/><circle cx="610.9" cy="325.6" r="2.4"/><circle cx="611.8" cy="332.8" r="2.4"/><circle cx="612.1" cy="329.1" r="2.4"/><circle cx="612.7" cy="326.6" r="2.4"/><circle cx="613.3" cy="322.0" r="2.4"/><circle cx="614.0" cy="322.1" r="2.4"/><circle cx="614.6" cy="318.8" r="2.4"/><circle cx="615.2" cy="315.3" r="2.4"/><circle cx="615.6" cy="313.5" r="2.4"/><circle cx="616.1" cy="307.2" r="2.4"/><circle cx="616.7" cy="304.5" r="2.4"/><circle cx="617.4" cy="296.1" r="2.4"/><circle cx="618.1" cy="293.2" r="2.4"/><circle cx="618.5" cy="284.5" r="2.4"/><circle cx="619.2" cy="279.3" r="2.4"/><circle cx="619.5" cy="286.9" r="2.4"/><circle cx="620.4" cy="269.9" r="2.4"/><circle cx="620.8" cy="260.1" r="2.4"/><circle cx="621.4" cy="259.2" r="2.4"/><circle cx="621.8" cy="254.7" r="2.4"/><circle cx="622.7" cy="246.1" r="2.4"/><circle cx="622.9" cy="250.0" r="2.4"/><circle cx="623.8" cy="247.9" r="2.4"/><circle cx="624.3" cy="243.6" r="2.4"/><circle cx="624.7" cy="242.6" r="2.4"/><circle cx="625.5" cy="243.2" r="2.4"/><circle cx="626.2" cy="265.5" r="2.4"/><circle cx="626.7" cy="262.1" r="2.4"/><circle cx="627.1" cy="271.0" r="2.4"/><circle cx="627.5" cy="280.3" r="2.4"/><circle cx="628.4" cy="291.1" r="2.4"/><circle cx="628.9" cy="298.7" r="2.4"/><circle cx="629.5" cy="308.0" r="2.4"/><circle cx="629.8" cy="307.0" r="2.4"/><circle cx="630.6" cy="317.4" r="2.4"/><circle cx="631.1" cy="327.0" r="2.4"/><circle cx="631.9" cy="330.7" r="2.4"/><circle cx="632.4" cy="338.0" r="2.4"/><circle cx="633.0" cy="339.7" r="2.4"/><circle cx="633.4" cy="338.0" r="2.4"/><circle cx="633.9" cy="336.7" r="2.4"/><circle cx="634.4" cy="334.5" r="2.4"/><circle cx="635.2" cy="343.9" r="2.4"/><circle cx="635.5" cy="334.1" r="2.4"/><circle cx="636.4" cy="338.0" r="2.4"/><circle cx="636.8" cy="336.5" r="2.4"/><circle cx="637.6" cy="341.9" r="2.4"/><circle cx="637.9" cy="342.7" r="2.4"/><circle cx="638.4" cy="345.9" r="2.4"/><circle cx="639.1" cy="333.6" r="2.4"/><circle cx="639.8" cy="339.6" r="2.4"/><circle cx="640.2" cy="341.2" r="2.4"/><circle cx="640.9" cy="340.1" r="2.4"/><circle cx="641.5" cy="337.6" r="2.4"/><circle cx="641.9" cy="341.8" r="2.4"/><circle cx="642.7" cy="343.6" r="2.4"/><circle cx="643.0" cy="340.2" r="2.4"/><circle cx="643.9" cy="344.5" r="2.4"/><circle cx="644.5" cy="341.8" r="2.4"/><circle cx="644.8" cy="341.6" r="2.4"/><circle cx="645.7" cy="344.6" r="2.4"/><circle cx="646.0" cy="345.9" r="2.4"/><circle cx="646.8" cy="337.7" r="2.4"/><circle cx="647.2" cy="344.0" r="2.4"/><circle cx="647.6" cy="339.3" r="2.4"/><circle cx="648.4" cy="341.5" r="2.4"/><circle cx="649.1" cy="340.8" r="2.4"/><circle cx="649.3" cy="348.5" r="2.4"/><circle cx="649.9" cy="341.7" r="2.4"/><circle cx="650.7" cy="341.1" r="2.4"/><circle cx="651.4" cy="340.5" r="2.4"/><circle cx="651.9" cy="342.7" r="2.4"/><circle cx="652.4" cy="343.7" r="2.4"/><circle cx="652.8" cy="344.7" r="2.4"/><circle cx="653.7" cy="337.6" r="2.4"/><circle cx="654.1" cy="344.9" r="2.4"/><circle cx="654.5" cy="342.3" r="2.4"/><circle cx="655.1" cy="339.5" r="2.4"/><circle cx="655.7" cy="344.4" r="2.4"/><circle cx="656.2" cy="346.3" r="2.4"/><circle cx="657.1" cy="333.8" r="2.4"/><circle cx="657.6" cy="342.0" r="2.4"/><circle cx="658.2" cy="343.0" r="2.4"/><circle cx="658.8" cy="337.1" r="2.4"/><circle cx="659.1" cy="338.1" r="2.4"/><circle cx="659.7" cy="337.8" r="2.4"/><circle cx="660.2" cy="344.2" r="2.4"/><circle cx="660.8" cy="342.0" r="2.4"/><circle cx="661.4" cy="336.9" r="2.4"/><circle cx="662.1" cy="339.0" r="2.4"/><circle cx="662.7" cy="343.6" r="2.4"/><circle cx="663.4" cy="336.6" r="2.4"/><circle cx="664.0" cy="339.4" r="2.4"/><circle cx="664.2" cy="341.4" r="2.4"/><circle cx="665.0" cy="344.7" r="2.4"/><circle cx="665.5" cy="346.0" r="2.4"/><circle cx="666.3" cy="350.1" r="2.4"/><circle cx="666.7" cy="350.0" r="2.4"/><circle cx="667.3" cy="338.9" r="2.4"/><circle cx="667.9" cy="339.8" r="2.4"/><circle cx="668.3" cy="343.5" r="2.4"/><circle cx="669.0" cy="343.5" r="2.4"/><circle cx="669.6" cy="344.1" r="2.4"/><circle cx="670.0" cy="342.0" r="2.4"/><circle cx="670.7" cy="344.3" r="2.4"/><circle cx="671.2" cy="345.1" r="2.4"/><circle cx="671.8" cy="342.9" r="2.4"/><circle cx="672.5" cy="340.6" r="2.4"/><circle cx="673.0" cy="342.4" r="2.4"/><circle cx="673.7" cy="342.1" r="2.4"/><circle cx="674.0" cy="340.2" r="2.4"/><circle cx="674.8" cy="340.5" r="2.4"/><circle cx="675.5" cy="342.2" r="2.4"/><circle cx="676.0" cy="344.5" r="2.4"/><circle cx="676.2" cy="341.1" r="2.4"/><circle cx="677.0" cy="341.3" r="2.4"/><circle cx="677.6" cy="347.9" r="2.4"/><circle cx="678.3" cy="348.1" r="2.4"/><circle cx="678.8" cy="338.9" r="2.4"/><circle cx="679.5" cy="335.9" r="2.4"/><circle cx="680.0" cy="337.8" r="2.4"/><circle cx="680.5" cy="339.8" r="2.4"/><circle cx="681.0" cy="343.0" r="2.4"/><circle cx="681.7" cy="336.7" r="2.4"/><circle cx="682.3" cy="344.1" r="2.4"/><circle cx="682.6" cy="337.2" r="2.4"/><circle cx="683.4" cy="342.0" r="2.4"/><circle cx="683.7" cy="342.3" r="2.4"/><circle cx="684.5" cy="338.7" r="2.4"/><circle cx="685.1" cy="342.7" r="2.4"/><circle cx="685.7" cy="337.6" r="2.4"/><circle cx="686.3" cy="349.7" r="2.4"/><circle cx="686.7" cy="336.1" r="2.4"/></g><g fill="#0a5294" clip-path="url(#lc2r)"><circle cx="558.2" cy="339.6" r="2.4"/><circle cx="559.0" cy="341.2" r="2.4"/><circle cx="559.3" cy="343.9" r="2.4"/><circle cx="560.0" cy="339.1" r="2.4"/><circle cx="560.8" cy="347.6" r="2.4"/><circle cx="561.1" cy="347.1" r="2.4"/><circle cx="561.7" cy="347.0" r="2.4"/><circle cx="562.4" cy="341.5" r="2.4"/><circle cx="562.9" cy="336.4" r="2.4"/><circle cx="563.5" cy="344.0" r="2.4"/><circle cx="564.2" cy="344.8" r="2.4"/><circle cx="564.6" cy="347.1" r="2.4"/><circle cx="565.3" cy="340.3" r="2.4"/><circle cx="565.8" cy="338.4" r="2.4"/><circle cx="566.3" cy="346.6" r="2.4"/><circle cx="567.0" cy="341.8" r="2.4"/><circle cx="567.5" cy="343.3" r="2.4"/><circle cx="568.1" cy="343.8" r="2.4"/><circle cx="568.5" cy="341.6" r="2.4"/><circle cx="569.3" cy="335.6" r="2.4"/><circle cx="569.9" cy="348.6" r="2.4"/><circle cx="570.5" cy="341.6" r="2.4"/><circle cx="571.0" cy="344.2" r="2.4"/><circle cx="571.6" cy="342.5" r="2.4"/><circle cx="572.1" cy="345.0" r="2.4"/><circle cx="572.6" cy="347.2" r="2.4"/><circle cx="573.3" cy="340.4" r="2.4"/><circle cx="573.6" cy="343.2" r="2.4"/><circle cx="574.2" cy="343.4" r="2.4"/><circle cx="575.1" cy="340.4" r="2.4"/><circle cx="575.6" cy="343.8" r="2.4"/><circle cx="575.9" cy="345.4" r="2.4"/><circle cx="576.5" cy="342.5" r="2.4"/><circle cx="577.2" cy="348.3" r="2.4"/><circle cx="577.6" cy="344.5" r="2.4"/><circle cx="578.3" cy="340.3" r="2.4"/><circle cx="578.8" cy="342.4" r="2.4"/><circle cx="579.7" cy="340.5" r="2.4"/><circle cx="580.1" cy="343.3" r="2.4"/><circle cx="580.7" cy="350.5" r="2.4"/><circle cx="581.4" cy="342.0" r="2.4"/><circle cx="581.6" cy="345.7" r="2.4"/><circle cx="582.5" cy="340.4" r="2.4"/><circle cx="583.0" cy="341.9" r="2.4"/><circle cx="583.5" cy="343.8" r="2.4"/><circle cx="584.2" cy="341.6" r="2.4"/><circle cx="584.7" cy="340.8" r="2.4"/><circle cx="585.1" cy="344.1" r="2.4"/><circle cx="585.7" cy="343.0" r="2.4"/><circle cx="586.3" cy="341.6" r="2.4"/><circle cx="587.0" cy="346.7" r="2.4"/><circle cx="587.6" cy="349.4" r="2.4"/><circle cx="588.2" cy="337.3" r="2.4"/><circle cx="588.8" cy="340.3" r="2.4"/><circle cx="589.3" cy="341.5" r="2.4"/><circle cx="590.0" cy="342.8" r="2.4"/><circle cx="590.5" cy="343.5" r="2.4"/><circle cx="590.9" cy="344.2" r="2.4"/><circle cx="591.4" cy="343.7" r="2.4"/><circle cx="592.3" cy="346.8" r="2.4"/><circle cx="592.8" cy="342.1" r="2.4"/><circle cx="593.3" cy="344.9" r="2.4"/><circle cx="593.9" cy="341.1" r="2.4"/><circle cx="594.3" cy="342.9" r="2.4"/><circle cx="594.9" cy="336.8" r="2.4"/><circle cx="595.7" cy="344.0" r="2.4"/><circle cx="596.3" cy="345.7" r="2.4"/><circle cx="596.7" cy="336.4" r="2.4"/><circle cx="597.4" cy="342.4" r="2.4"/><circle cx="598.0" cy="339.7" r="2.4"/><circle cx="598.4" cy="344.1" r="2.4"/><circle cx="599.1" cy="340.7" r="2.4"/><circle cx="599.7" cy="344.3" r="2.4"/><circle cx="600.4" cy="342.5" r="2.4"/><circle cx="600.6" cy="341.9" r="2.4"/><circle cx="601.4" cy="340.9" r="2.4"/><circle cx="601.7" cy="335.0" r="2.4"/><circle cx="602.6" cy="346.8" r="2.4"/><circle cx="603.0" cy="336.9" r="2.4"/><circle cx="603.4" cy="343.7" r="2.4"/><circle cx="604.4" cy="344.8" r="2.4"/><circle cx="604.9" cy="342.6" r="2.4"/><circle cx="605.3" cy="338.8" r="2.4"/><circle cx="606.0" cy="342.8" r="2.4"/><circle cx="606.5" cy="338.4" r="2.4"/><circle cx="607.1" cy="345.6" r="2.4"/><circle cx="607.6" cy="343.5" r="2.4"/><circle cx="608.2" cy="338.5" r="2.4"/><circle cx="608.6" cy="342.4" r="2.4"/><circle cx="609.3" cy="341.7" r="2.4"/><circle cx="609.7" cy="346.9" r="2.4"/><circle cx="610.5" cy="347.9" r="2.4"/><circle cx="611.0" cy="340.1" r="2.4"/><circle cx="611.8" cy="341.5" r="2.4"/><circle cx="612.2" cy="342.2" r="2.4"/><circle cx="612.8" cy="345.9" r="2.4"/><circle cx="613.2" cy="346.0" r="2.4"/><circle cx="614.1" cy="334.9" r="2.4"/><circle cx="614.4" cy="340.3" r="2.4"/><circle cx="614.9" cy="337.1" r="2.4"/><circle cx="615.7" cy="347.6" r="2.4"/><circle cx="616.3" cy="341.3" r="2.4"/><circle cx="616.9" cy="337.5" r="2.4"/><circle cx="617.5" cy="338.8" r="2.4"/><circle cx="617.8" cy="335.1" r="2.4"/><circle cx="618.4" cy="337.4" r="2.4"/><circle cx="618.9" cy="337.4" r="2.4"/><circle cx="619.5" cy="335.7" r="2.4"/><circle cx="620.3" cy="339.9" r="2.4"/><circle cx="620.9" cy="332.2" r="2.4"/><circle cx="621.2" cy="337.9" r="2.4"/><circle cx="621.8" cy="336.1" r="2.4"/><circle cx="622.5" cy="333.4" r="2.4"/><circle cx="623.0" cy="325.9" r="2.4"/><circle cx="623.8" cy="334.5" r="2.4"/><circle cx="624.2" cy="334.6" r="2.4"/><circle cx="624.8" cy="332.9" r="2.4"/><circle cx="625.3" cy="339.2" r="2.4"/><circle cx="625.9" cy="334.8" r="2.4"/><circle cx="626.6" cy="331.1" r="2.4"/><circle cx="627.1" cy="340.5" r="2.4"/><circle cx="627.6" cy="331.5" r="2.4"/><circle cx="628.2" cy="337.1" r="2.4"/><circle cx="628.9" cy="329.4" r="2.4"/><circle cx="629.4" cy="342.4" r="2.4"/><circle cx="629.9" cy="336.1" r="2.4"/><circle cx="630.4" cy="333.9" r="2.4"/><circle cx="631.3" cy="338.0" r="2.4"/><circle cx="631.5" cy="338.3" r="2.4"/><circle cx="632.2" cy="335.3" r="2.4"/><circle cx="633.0" cy="339.4" r="2.4"/><circle cx="633.3" cy="336.6" r="2.4"/><circle cx="633.8" cy="332.4" r="2.4"/><circle cx="634.6" cy="342.8" r="2.4"/><circle cx="635.3" cy="341.0" r="2.4"/><circle cx="635.9" cy="340.5" r="2.4"/><circle cx="636.3" cy="338.4" r="2.4"/><circle cx="636.9" cy="344.9" r="2.4"/><circle cx="637.4" cy="345.5" r="2.4"/><circle cx="638.2" cy="342.5" r="2.4"/><circle cx="638.6" cy="341.6" r="2.4"/><circle cx="639.2" cy="339.3" r="2.4"/><circle cx="639.8" cy="336.2" r="2.4"/><circle cx="640.3" cy="342.5" r="2.4"/><circle cx="640.8" cy="340.6" r="2.4"/><circle cx="641.5" cy="344.3" r="2.4"/><circle cx="641.8" cy="346.7" r="2.4"/><circle cx="642.7" cy="344.0" r="2.4"/><circle cx="643.2" cy="346.9" r="2.4"/><circle cx="643.9" cy="338.4" r="2.4"/><circle cx="644.3" cy="343.4" r="2.4"/><circle cx="644.9" cy="341.0" r="2.4"/><circle cx="645.6" cy="347.0" r="2.4"/><circle cx="646.0" cy="344.3" r="2.4"/><circle cx="646.7" cy="343.9" r="2.4"/><circle cx="647.0" cy="347.5" r="2.4"/><circle cx="647.9" cy="343.6" r="2.4"/><circle cx="648.3" cy="341.0" r="2.4"/><circle cx="648.7" cy="344.0" r="2.4"/><circle cx="649.5" cy="344.3" r="2.4"/><circle cx="650.1" cy="339.9" r="2.4"/><circle cx="650.7" cy="340.7" r="2.4"/><circle cx="651.2" cy="344.6" r="2.4"/><circle cx="651.8" cy="344.2" r="2.4"/><circle cx="652.3" cy="346.3" r="2.4"/><circle cx="653.1" cy="337.0" r="2.4"/><circle cx="653.4" cy="341.8" r="2.4"/><circle cx="653.9" cy="344.1" r="2.4"/><circle cx="654.6" cy="345.6" r="2.4"/><circle cx="655.0" cy="340.1" r="2.4"/><circle cx="655.6" cy="341.7" r="2.4"/><circle cx="656.5" cy="341.6" r="2.4"/><circle cx="656.9" cy="339.6" r="2.4"/><circle cx="657.6" cy="340.7" r="2.4"/><circle cx="658.0" cy="346.6" r="2.4"/><circle cx="658.5" cy="345.3" r="2.4"/><circle cx="659.3" cy="343.6" r="2.4"/><circle cx="659.7" cy="343.6" r="2.4"/><circle cx="660.3" cy="345.3" r="2.4"/><circle cx="660.8" cy="342.4" r="2.4"/><circle cx="661.6" cy="346.2" r="2.4"/><circle cx="662.2" cy="338.6" r="2.4"/><circle cx="662.6" cy="341.8" r="2.4"/><circle cx="663.1" cy="341.4" r="2.4"/><circle cx="663.8" cy="344.6" r="2.4"/><circle cx="664.4" cy="340.7" r="2.4"/><circle cx="664.8" cy="340.4" r="2.4"/><circle cx="665.5" cy="351.3" r="2.4"/><circle cx="666.3" cy="351.6" r="2.4"/><circle cx="666.6" cy="341.1" r="2.4"/><circle cx="667.1" cy="342.8" r="2.4"/><circle cx="667.9" cy="344.2" r="2.4"/><circle cx="668.2" cy="346.4" r="2.4"/><circle cx="668.9" cy="345.6" r="2.4"/><circle cx="669.7" cy="342.4" r="2.4"/><circle cx="670.2" cy="339.5" r="2.4"/><circle cx="670.8" cy="340.7" r="2.4"/><circle cx="671.4" cy="347.0" r="2.4"/><circle cx="672.0" cy="349.9" r="2.4"/><circle cx="672.4" cy="340.3" r="2.4"/><circle cx="673.0" cy="346.2" r="2.4"/><circle cx="673.6" cy="342.4" r="2.4"/><circle cx="674.1" cy="347.4" r="2.4"/><circle cx="674.8" cy="347.1" r="2.4"/><circle cx="675.5" cy="340.0" r="2.4"/><circle cx="675.9" cy="338.4" r="2.4"/><circle cx="676.3" cy="337.0" r="2.4"/><circle cx="676.9" cy="339.3" r="2.4"/><circle cx="677.5" cy="341.6" r="2.4"/><circle cx="678.3" cy="341.1" r="2.4"/><circle cx="678.9" cy="339.8" r="2.4"/><circle cx="679.1" cy="344.0" r="2.4"/><circle cx="680.0" cy="341.6" r="2.4"/><circle cx="680.4" cy="341.5" r="2.4"/><circle cx="680.9" cy="341.3" r="2.4"/><circle cx="681.7" cy="341.8" r="2.4"/><circle cx="682.1" cy="341.9" r="2.4"/><circle cx="682.6" cy="343.1" r="2.4"/><circle cx="683.3" cy="347.8" r="2.4"/><circle cx="683.8" cy="337.7" r="2.4"/><circle cx="684.4" cy="341.3" r="2.4"/><circle cx="685.1" cy="340.2" r="2.4"/><circle cx="685.7" cy="342.7" r="2.4"/><circle cx="686.2" cy="345.6" r="2.4"/><circle cx="686.9" cy="343.2" r="2.4"/></g></svg>
</body></html>
